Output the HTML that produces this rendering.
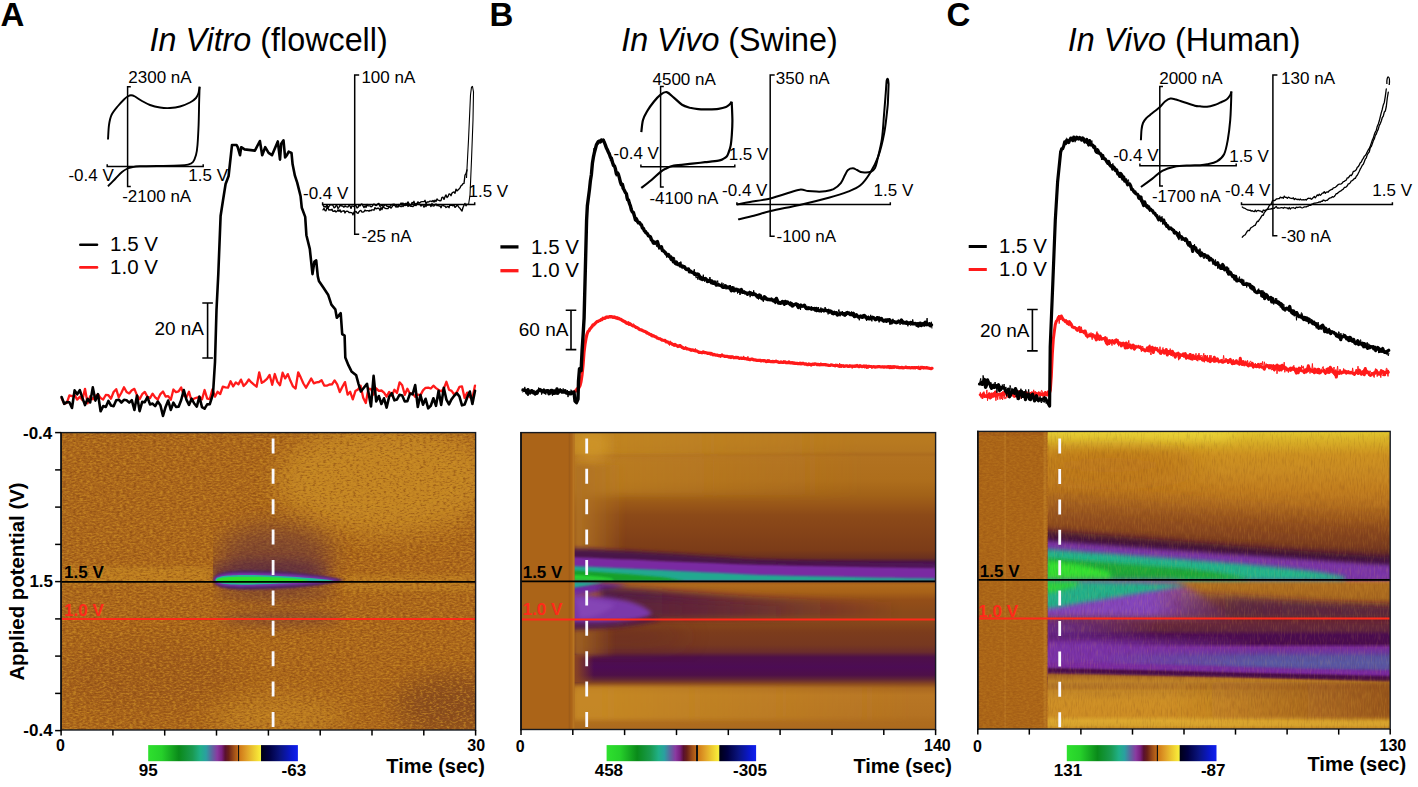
<!DOCTYPE html><html><head><meta charset="utf-8"><style>html,body{margin:0;padding:0;background:#fff;overflow:hidden}svg{display:block;font-family:"Liberation Sans",sans-serif}</style></head><body><svg width="1418" height="787" viewBox="0 0 1418 787" font-family="Liberation Sans, sans-serif"><defs><linearGradient id="cbar" x1="0" y1="0" x2="1" y2="0"><stop offset="0" stop-color="#2ee02e"/><stop offset="0.09" stop-color="#26d02a"/><stop offset="0.205" stop-color="#0a8a1a"/><stop offset="0.295" stop-color="#1a9a50"/><stop offset="0.348" stop-color="#20b088"/><stop offset="0.386" stop-color="#2aa0a0"/><stop offset="0.424" stop-color="#5a6aa0"/><stop offset="0.461" stop-color="#8a3aa0"/><stop offset="0.491" stop-color="#7a2080"/><stop offset="0.514" stop-color="#5a1030"/><stop offset="0.537" stop-color="#6a2018"/><stop offset="0.574" stop-color="#a05018"/><stop offset="0.599" stop-color="#c06818"/><stop offset="0.6" stop-color="#111"/><stop offset="0.609" stop-color="#111"/><stop offset="0.61" stop-color="#d07818"/><stop offset="0.657" stop-color="#e0a028"/><stop offset="0.702" stop-color="#ecc830"/><stop offset="0.742" stop-color="#f8e838"/><stop offset="0.751" stop-color="#f0f040"/><stop offset="0.757" stop-color="#000018"/><stop offset="0.808" stop-color="#000040"/><stop offset="0.883" stop-color="#0a1480"/><stop offset="0.958" stop-color="#0a18d0"/><stop offset="1" stop-color="#1020f0"/></linearGradient><linearGradient id="gB" x1="0" y1="0" x2="0" y2="1"><stop offset="0.0" stop-color="#b87a20"/><stop offset="0.0253" stop-color="#b87a20"/><stop offset="0.0623" stop-color="#b47620"/><stop offset="0.0741" stop-color="#ac6c1e"/><stop offset="0.0825" stop-color="#b27220"/><stop offset="0.16" stop-color="#ae6e1c"/><stop offset="0.2105" stop-color="#a26218"/><stop offset="0.2442" stop-color="#985618"/><stop offset="0.2779" stop-color="#8c4a18"/><stop offset="0.3284" stop-color="#864418"/><stop offset="0.3958" stop-color="#7c3c18"/><stop offset="0.4227" stop-color="#6a3020"/><stop offset="0.4362" stop-color="#4a1448"/><stop offset="0.4496" stop-color="#5a1a70"/><stop offset="0.4598" stop-color="#7a2aa0"/><stop offset="0.4766" stop-color="#8a3ab0"/><stop offset="0.4901" stop-color="#7a2aa0"/><stop offset="0.4985" stop-color="#4a1a50"/><stop offset="0.5052" stop-color="#a85e18"/><stop offset="0.5136" stop-color="#b06a1c"/><stop offset="0.5372" stop-color="#a86218"/><stop offset="0.5642" stop-color="#944e18"/><stop offset="0.6046" stop-color="#8a4a1a"/><stop offset="0.6315" stop-color="#8a4a1a"/><stop offset="0.6719" stop-color="#7c3c1c"/><stop offset="0.7157" stop-color="#763820"/><stop offset="0.7393" stop-color="#6a2c2c"/><stop offset="0.7561" stop-color="#4e1048"/><stop offset="0.7898" stop-color="#4c0c54"/><stop offset="0.8168" stop-color="#4e1048"/><stop offset="0.8302" stop-color="#5e2438"/><stop offset="0.8471" stop-color="#8a4a20"/><stop offset="0.8606" stop-color="#aa6820"/><stop offset="0.8841" stop-color="#b87624"/><stop offset="0.9515" stop-color="#b47222"/><stop offset="0.9751" stop-color="#ae6c1e"/><stop offset="1.0" stop-color="#ac6a1e"/></linearGradient><linearGradient id="gC" x1="0" y1="0" x2="0" y2="1"><stop offset="0.0" stop-color="#e2ca30"/><stop offset="0.0185" stop-color="#dcb82a"/><stop offset="0.0455" stop-color="#d4a624"/><stop offset="0.0792" stop-color="#cc9020"/><stop offset="0.1298" stop-color="#c88a22"/><stop offset="0.1972" stop-color="#c07c1e"/><stop offset="0.2477" stop-color="#b47020"/><stop offset="0.2983" stop-color="#a05c1c"/><stop offset="0.3354" stop-color="#8e4c1c"/><stop offset="0.3825" stop-color="#743820"/><stop offset="0.4095" stop-color="#5a2628"/><stop offset="0.4264" stop-color="#4a1a40"/><stop offset="0.4398" stop-color="#5a1a6a"/><stop offset="0.4567" stop-color="#7a34a0"/><stop offset="0.4803" stop-color="#8440b0"/><stop offset="0.4954" stop-color="#6a2a80"/><stop offset="0.4988" stop-color="#4a1a50"/><stop offset="0.5056" stop-color="#c07e22"/><stop offset="0.514" stop-color="#b07020"/><stop offset="0.5612" stop-color="#a86820"/><stop offset="0.5881" stop-color="#8a4c22"/><stop offset="0.6084" stop-color="#7a3e24"/><stop offset="0.6252" stop-color="#7a3a20"/><stop offset="0.632" stop-color="#6e3028"/><stop offset="0.6421" stop-color="#6a2a38"/><stop offset="0.669" stop-color="#5e2440"/><stop offset="0.6842" stop-color="#4a0c50"/><stop offset="0.7128" stop-color="#4a0c50"/><stop offset="0.7263" stop-color="#7a2a9a"/><stop offset="0.7432" stop-color="#6a3aa0"/><stop offset="0.7567" stop-color="#5a50a0"/><stop offset="0.7769" stop-color="#5a5aa4"/><stop offset="0.7971" stop-color="#5a50a0"/><stop offset="0.8106" stop-color="#7a2aa0"/><stop offset="0.8257" stop-color="#4a0c4a"/><stop offset="0.8409" stop-color="#4a1440"/><stop offset="0.851" stop-color="#8a4a24"/><stop offset="0.8713" stop-color="#c08428"/><stop offset="0.905" stop-color="#cc8e26"/><stop offset="0.9555" stop-color="#cc8c24"/><stop offset="0.9724" stop-color="#dca830"/><stop offset="0.9892" stop-color="#d4a02c"/><stop offset="1.0" stop-color="#c08020"/></linearGradient>
<filter id="bl1" x="-20%" y="-50%" width="140%" height="200%"><feGaussianBlur stdDeviation="1.2"/></filter>
<filter id="bl2" x="-20%" y="-50%" width="140%" height="200%"><feGaussianBlur stdDeviation="2.2"/></filter>
<filter id="bl3" x="-20%" y="-60%" width="140%" height="220%"><feGaussianBlur stdDeviation="3.5"/></filter>
<filter id="bl5" x="-30%" y="-80%" width="160%" height="260%"><feGaussianBlur stdDeviation="6"/></filter>
<filter id="bl9" x="-30%" y="-80%" width="160%" height="260%"><feGaussianBlur stdDeviation="12"/></filter>
<filter id="grainv" x="0" y="0" width="100%" height="100%" filterUnits="objectBoundingBox" color-interpolation-filters="sRGB">
  <feTurbulence type="fractalNoise" baseFrequency="0.7 0.12" numOctaves="2" seed="9" result="n"/>
  <feColorMatrix in="n" type="matrix" values="0 0 0 0 0.95  0 0 0 0 0.72  0 0 0 0 0.25  3.0 0 0 0 -1.45" result="lite"/>
  <feColorMatrix in="n" type="matrix" values="0 0 0 0 0.35  0 0 0 0 0.15  0 0 0 0 0.1  -3.0 0 0 0 1.45" result="dark"/>
  <feMerge><feMergeNode in="lite"/><feMergeNode in="dark"/></feMerge>
</filter>
<filter id="grain" x="0" y="0" width="100%" height="100%" filterUnits="objectBoundingBox" color-interpolation-filters="sRGB">
  <feTurbulence type="fractalNoise" baseFrequency="0.3 0.6" numOctaves="2" seed="4" result="n"/>
  <feColorMatrix in="n" type="matrix" values="0 0 0 0 0.82  0 0 0 0 0.58  0 0 0 0 0.15  3.4 0 0 0 -1.62" result="lite"/>
  <feColorMatrix in="n" type="matrix" values="0 0 0 0 0.52  0 0 0 0 0.27  0 0 0 0 0.07  -3.4 0 0 0 1.62" result="dark"/>
  <feMerge><feMergeNode in="lite"/><feMergeNode in="dark"/></feMerge>
</filter>
<clipPath id="cA"><rect x="61.1" y="432.6" width="414.5" height="297.4"/></clipPath><clipPath id="cB"><rect x="521.0" y="432.6" width="414.6" height="296.9"/></clipPath><clipPath id="cAh"><rect x="213" y="430" width="200" height="300"/></clipPath><clipPath id="cBr"><rect x="574" y="430" width="365" height="302"/></clipPath><clipPath id="cCr"><rect x="1047.5" y="430" width="345" height="302"/></clipPath><clipPath id="cC"><rect x="977.8" y="431.4" width="412.4000000000001" height="297.6"/></clipPath><linearGradient id="fB3" gradientUnits="userSpaceOnUse" x1="590" y1="0" x2="860" y2="0"><stop offset="0" stop-color="#c68c24" stop-opacity="0.6"/><stop offset="1" stop-color="#c68c24" stop-opacity="0"/></linearGradient><linearGradient id="fB4" gradientUnits="userSpaceOnUse" x1="590" y1="0" x2="860" y2="0"><stop offset="0" stop-color="#c08424" stop-opacity="0.6"/><stop offset="1" stop-color="#c08424" stop-opacity="0"/></linearGradient><linearGradient id="fB5" gradientUnits="userSpaceOnUse" x1="600" y1="0" x2="910" y2="0"><stop offset="0" stop-color="#c88c24" stop-opacity="0.8"/><stop offset="1" stop-color="#c88c24" stop-opacity="0"/></linearGradient><linearGradient id="fB6" gradientUnits="userSpaceOnUse" x1="578" y1="0" x2="625" y2="0"><stop offset="0" stop-color="#b07222" stop-opacity="0.95"/><stop offset="1" stop-color="#b07222" stop-opacity="0"/></linearGradient><linearGradient id="fB7" gradientUnits="userSpaceOnUse" x1="578" y1="0" x2="615" y2="0"><stop offset="0" stop-color="#a86a20" stop-opacity="0.8"/><stop offset="1" stop-color="#a86a20" stop-opacity="0"/></linearGradient><linearGradient id="fB9" gradientUnits="userSpaceOnUse" x1="640" y1="0" x2="900" y2="0"><stop offset="0" stop-color="#4a1448" stop-opacity="0.9"/><stop offset="1" stop-color="#4a1448" stop-opacity="0"/></linearGradient><linearGradient id="fB10" gradientUnits="userSpaceOnUse" x1="660" y1="0" x2="800" y2="0"><stop offset="0" stop-color="#6a2a30" stop-opacity="0.5"/><stop offset="1" stop-color="#6a2a30" stop-opacity="0"/></linearGradient><linearGradient id="fB2" gradientUnits="userSpaceOnUse" x1="577" y1="0" x2="594" y2="0"><stop offset="0" stop-color="#8a4622" stop-opacity="0.9"/><stop offset="1" stop-color="#8a4622" stop-opacity="0"/></linearGradient><linearGradient id="fC1" gradientUnits="userSpaceOnUse" x1="1150" y1="0" x2="1235" y2="0"><stop offset="0" stop-color="#8444bc" stop-opacity="1"/><stop offset="1" stop-color="#8444bc" stop-opacity="0.2"/></linearGradient><linearGradient id="fC5" gradientUnits="userSpaceOnUse" x1="1240" y1="0" x2="1160" y2="0"><stop offset="0" stop-color="#4a1a50" stop-opacity="0.7"/><stop offset="1" stop-color="#4a1a50" stop-opacity="0"/></linearGradient><linearGradient id="fC7" gradientUnits="userSpaceOnUse" x1="1395" y1="0" x2="1250" y2="0"><stop offset="0" stop-color="#5a2438" stop-opacity="0.55"/><stop offset="1" stop-color="#5a2438" stop-opacity="0"/></linearGradient><linearGradient id="fC2" gradientUnits="userSpaceOnUse" x1="1060" y1="0" x2="1160" y2="0"><stop offset="0" stop-color="#6a2c98" stop-opacity="0.8"/><stop offset="1" stop-color="#6a2c98" stop-opacity="0"/></linearGradient><linearGradient id="fC3" gradientUnits="userSpaceOnUse" x1="1090" y1="0" x2="1260" y2="0"><stop offset="0" stop-color="#7a32a8" stop-opacity="1"/><stop offset="1" stop-color="#7a32a8" stop-opacity="0"/></linearGradient><linearGradient id="vC1" x1="0" y1="0" x2="0" y2="1"><stop offset="0" stop-color="#9a5a26"/><stop offset="0.45" stop-color="#c08428"/><stop offset="1" stop-color="#c88a28" stop-opacity="0"/></linearGradient><linearGradient id="fC4" gradientUnits="userSpaceOnUse" x1="1395" y1="0" x2="1170" y2="0"><stop offset="0" stop-color="#8e4c1c" stop-opacity="0.85"/><stop offset="1" stop-color="#8e4c1c" stop-opacity="0"/></linearGradient></defs><rect width="1418" height="787" fill="#fff"/><g clip-path="url(#cA)"><rect x="61.1" y="432.6" width="414.5" height="297.4" fill="#aa661c"/><ellipse cx="385" cy="480" rx="110" ry="55" fill="#c88c26" opacity="0.8" filter="url(#bl9)"/><rect x="61" y="567" width="150" height="17" fill="#c88c26" opacity="0.55" filter="url(#bl2)"/><rect x="342" y="575" width="134" height="16" fill="#c88c26" opacity="0.45" filter="url(#bl2)"/><ellipse cx="278" cy="716" rx="70" ry="18" fill="#c88c26" opacity="0.6" filter="url(#bl9)"/><ellipse cx="450" cy="705" rx="55" ry="30" fill="#6a3424" opacity="0.5" filter="url(#bl9)"/><ellipse cx="150" cy="675" rx="90" ry="35" fill="#8a4a1a" opacity="0.3" filter="url(#bl9)"/><rect x="61.1" y="432.6" width="414.5" height="297.4" filter="url(#grain)" opacity="0.6"/><g clip-path="url(#cAh)"><ellipse cx="275" cy="556" rx="58" ry="30" fill="#5a2c40" opacity="0.5" filter="url(#bl9)"/><ellipse cx="268" cy="571" rx="62" ry="11" fill="#4a1c48" opacity="0.55" filter="url(#bl5)"/><ellipse cx="275" cy="594" rx="62" ry="8" fill="#5a2c40" opacity="0.35" filter="url(#bl5)"/><ellipse cx="280" cy="619" rx="62" ry="7" fill="#5a2c40" opacity="0.4" filter="url(#bl5)"/></g><path d="M213.5,580 C213.5,569 240,570 270,571 C300,572 330,576 344,580 C330,585 300,588 270,589 C240,590 213.5,591 213.5,580Z" fill="#4e2060" filter="url(#bl1)"/><path d="M214.5,580 C214.5,572 240,572.5 270,573.5 C300,574.5 325,577.5 340,580 C325,583 300,585 270,586 C240,587 214.5,588 214.5,580Z" fill="#7a38b0" filter="url(#bl1)"/><path d="M215.5,580 C215.5,574.5 240,574.5 270,575.5 C295,576.5 318,578.5 334,580.5 C318,582 295,583 270,584 C240,585 215.5,585.5 215.5,580Z" fill="#22b898"/><path d="M217,580 C217,576.5 240,576.5 265,577 C285,577.5 300,579 310,580 C300,581.5 285,582 265,583 C240,583.5 217,583.5 217,580Z" fill="#2ee030"/></g><g clip-path="url(#cB)"><rect x="521.0" y="432.6" width="414.6" height="296.9" fill="url(#gB)"/><g clip-path="url(#cBr)"><rect x="574" y="432" width="300" height="23" fill="url(#fB3)" filter="url(#bl1)"/><rect x="574" y="455" width="300" height="40" fill="url(#fB4)" filter="url(#bl3)"/><ellipse cx="592" cy="445" rx="18" ry="16" fill="#d49c2a" opacity="0.6" filter="url(#bl5)"/><rect x="574" y="686" width="360" height="34" fill="url(#fB5)" filter="url(#bl2)"/><ellipse cx="620" cy="636" rx="70" ry="10" fill="#5a2428" opacity="0.45" filter="url(#bl9)"/><rect x="574" y="465" width="60" height="90" fill="url(#fB6)" filter="url(#bl2)"/><rect x="574" y="626" width="60" height="30" fill="url(#fB7)" filter="url(#bl2)"/><path d="M570,548 C620,550 680,554 760,560 C820,563 880,564 935,565 L935,569 C860,568 800,567 760,566 C700,564 640,563 570,563Z" fill="#4a1448" filter="url(#bl2)"/><path d="M571,557 C620,559 680,562 760,565 C840,567 890,568 935,568.5 L935,581 L571,581Z" fill="#7a2aa2" filter="url(#bl1)"/><path d="M572,566 C620,568 680,571 760,575 C840,577 890,578 935,578.5 L935,581 L572,581Z" fill="#22a890" filter="url(#bl1)"/><path d="M573,570.5 C600,572 630,574 660,577 C672,578.5 680,580 684,581 L573,581Z" fill="#15a02a" filter="url(#bl1)"/><path d="M574,575 C585,575 600,576.5 612,578.5 L614,581 L574,581Z" fill="#28d030" filter="url(#bl1)"/><path d="M571,582 C590,582 610,583 628,585.5 C610,590 590,594 571,597Z" fill="#6e2aa0" filter="url(#bl2)"/><path d="M572,582 L605,582.5 C595,584 585,586 572,588Z" fill="#22a890" filter="url(#bl1)"/><path d="M600,586 C650,589 700,593 760,597 C820,600 880,602 935,603 L935,618 L600,618Z" fill="url(#fB9)" filter="url(#bl3)"/><path d="M620,598 C680,601 740,605 800,607 L800,618 L620,618Z" fill="url(#fB10)" filter="url(#bl3)"/><path d="M571,594 C590,595 610,597 628,601 C642,605 650,610 652,614 C645,619 630,622 612,624 C595,626 585,626 571,626Z" fill="#7a38aa" filter="url(#bl2)"/><path d="M576,598 C590,599 605,601 615,605 C607,612 595,617 580,619Z" fill="#8a4cba" opacity="0.7" filter="url(#bl2)"/><path d="M571,622 C600,623 630,622 655,617 L660,620 C640,626 610,629 571,630Z" fill="#4a1448" opacity="0.8" filter="url(#bl2)"/><rect x="574" y="655" width="22" height="27" fill="url(#fB2)"/></g><rect x="521.0" y="432.6" width="53.5" height="296.9" fill="#ab6418"/><rect x="568.8" y="432.6" width="1.4" height="296.9" fill="#9a5a1a" opacity="0.7"/><rect x="572.5" y="432.6" width="2" height="296.9" fill="#c08028" opacity="0.6"/></g><g clip-path="url(#cC)"><rect x="977.8" y="431.4" width="412.4000000000001" height="297.6" fill="url(#gC)"/><g clip-path="url(#cCr)"><ellipse cx="1140" cy="434" rx="100" ry="7" fill="#f0e040" opacity="0.8" filter="url(#bl5)"/><ellipse cx="1110" cy="465" rx="90" ry="16" fill="#b06618" opacity="0.6" filter="url(#bl9)"/><path d="M1040,495 C1150,505 1280,518 1395,528 L1395,560 L1040,545Z" fill="#864420" opacity="0.55" filter="url(#bl9)"/><path d="M1040,530 C1100,535 1200,543 1300,551 L1395,558 L1395,567 C1300,563 1200,558 1040,549Z" fill="#3a1040" opacity="0.9" filter="url(#bl3)"/><path d="M1040,540 C1100,545 1200,552 1300,559 L1395,566 L1395,580 L1040,580Z" fill="#7a34a8" filter="url(#bl2)"/><path d="M1044,549 C1100,553 1170,558 1230,563 C1280,567 1320,571 1345,577 L1345,580 L1044,580Z" fill="#24b48c" filter="url(#bl2)"/><path d="M1046,558 C1090,561 1140,565 1190,569 C1215,572 1235,575 1250,579 L1046,580Z" fill="#1ea838" filter="url(#bl2)"/><path d="M1047,561 C1065,562 1090,566 1110,572 L1110,580 L1047,580Z" fill="#30e030" filter="url(#bl2)"/><path d="M1040,581 L1175,581 C1195,590 1215,605 1235,618 L1040,618Z" fill="url(#fC1)" filter="url(#bl3)"/><path d="M1150,590 C1250,597 1320,603 1395,606 L1395,618 L1150,618Z" fill="url(#fC5)" filter="url(#bl3)"/><path d="M1240,598 C1300,602 1350,605 1395,606 L1395,618 L1240,618Z" fill="url(#fC7)" filter="url(#bl3)"/><path d="M1042,581 C1100,582 1150,583 1188,585 C1160,590 1110,598 1080,603 C1065,606 1055,608 1042,609Z" fill="#24b08a" filter="url(#bl2)"/><path d="M1044,581 L1080,582 C1078,587 1062,591 1044,594Z" fill="#2ad040" filter="url(#bl2)"/><rect x="1040" y="620" width="160" height="18" fill="url(#fC2)" filter="url(#bl3)"/><rect x="1040" y="639" width="260" height="36" fill="url(#fC3)" filter="url(#bl3)"/><path d="M1040,672 C1150,674 1280,677 1395,681 L1395,694 L1040,694Z" fill="url(#vC1)" filter="url(#bl1)"/><path d="M1040,667 C1150,669 1280,673 1395,676 L1395,681 C1280,678 1150,675 1040,673Z" fill="#4a0c4a" filter="url(#bl1)"/><path d="M1040,662 C1150,664 1280,668 1395,671 L1395,676 C1280,673 1150,670 1040,667.5Z" fill="#7a2aa0" opacity="0.9" filter="url(#bl1)"/><rect x="1150" y="682" width="245" height="37" fill="url(#fC4)" filter="url(#bl2)"/><rect x="1047" y="431.4" width="343.20000000000005" height="297.6" filter="url(#grainv)" opacity="0.13"/></g><rect x="977.8" y="431.4" width="69.70000000000005" height="297.6" fill="#ab6518"/><rect x="977.8" y="431.4" width="69.70000000000005" height="4" fill="#a05a1a" opacity="0.6"/><rect x="1004.5" y="431.4" width="1.2" height="297.6" fill="#c88a30" opacity="0.5"/><rect x="1043.5" y="431.4" width="3" height="297.6" fill="#c08028" opacity="0.6"/><rect x="977.8" y="431.4" width="69.70000000000005" height="297.6" filter="url(#grain)" opacity="0.22"/></g><line x1="273.1" y1="438.4" x2="273.1" y2="730.0" stroke="#fafaff" stroke-width="2.8" stroke-dasharray="15 15.4"/><line x1="61.1" y1="581.9" x2="475.6" y2="581.9" stroke="#000" stroke-width="1.7"/><line x1="61.1" y1="619.1" x2="475.6" y2="619.1" stroke="#ff2a1a" stroke-width="2"/><rect x="61.1" y="432.6" width="414.5" height="297.4" fill="none" stroke="#161a22" stroke-width="1.4"/><line x1="61.1" y1="432.0" x2="61.1" y2="730.7" stroke="#111" stroke-width="1.6"/><line x1="61.1" y1="730.0" x2="61.1" y2="735.6" stroke="#000" stroke-width="1.5"/><line x1="112.9" y1="730.0" x2="112.9" y2="735.6" stroke="#000" stroke-width="1.5"/><line x1="164.7" y1="730.0" x2="164.7" y2="735.6" stroke="#000" stroke-width="1.5"/><line x1="216.5" y1="730.0" x2="216.5" y2="735.6" stroke="#000" stroke-width="1.5"/><line x1="268.4" y1="730.0" x2="268.4" y2="735.6" stroke="#000" stroke-width="1.5"/><line x1="320.2" y1="730.0" x2="320.2" y2="735.6" stroke="#000" stroke-width="1.5"/><line x1="372.0" y1="730.0" x2="372.0" y2="735.6" stroke="#000" stroke-width="1.5"/><line x1="423.8" y1="730.0" x2="423.8" y2="735.6" stroke="#000" stroke-width="1.5"/><line x1="475.6" y1="730.0" x2="475.6" y2="735.6" stroke="#000" stroke-width="1.5"/><line x1="55.1" y1="432.6" x2="61.1" y2="432.6" stroke="#000" stroke-width="1.5"/><line x1="55.1" y1="469.9" x2="61.1" y2="469.9" stroke="#000" stroke-width="1.5"/><line x1="55.1" y1="507.1" x2="61.1" y2="507.1" stroke="#000" stroke-width="1.5"/><line x1="55.1" y1="544.4" x2="61.1" y2="544.4" stroke="#000" stroke-width="1.5"/><line x1="55.1" y1="581.6" x2="61.1" y2="581.6" stroke="#000" stroke-width="1.5"/><line x1="55.1" y1="618.9" x2="61.1" y2="618.9" stroke="#000" stroke-width="1.5"/><line x1="55.1" y1="656.1" x2="61.1" y2="656.1" stroke="#000" stroke-width="1.5"/><line x1="55.1" y1="693.4" x2="61.1" y2="693.4" stroke="#000" stroke-width="1.5"/><line x1="55.1" y1="730.6" x2="61.1" y2="730.6" stroke="#000" stroke-width="1.5"/><line x1="586.7" y1="438.4" x2="586.7" y2="729.5" stroke="#fafaff" stroke-width="2.8" stroke-dasharray="15 15.4"/><line x1="521.0" y1="581.3" x2="935.6" y2="581.3" stroke="#000" stroke-width="1.7"/><line x1="521.0" y1="619.4" x2="935.6" y2="619.4" stroke="#ff2a1a" stroke-width="2"/><rect x="521.0" y="432.6" width="414.6" height="296.9" fill="none" stroke="#161a22" stroke-width="1.4"/><line x1="521.0" y1="432.0" x2="521.0" y2="730.2" stroke="#111" stroke-width="1.6"/><line x1="521.0" y1="729.5" x2="521.0" y2="735.1" stroke="#000" stroke-width="1.5"/><line x1="572.8" y1="729.5" x2="572.8" y2="735.1" stroke="#000" stroke-width="1.5"/><line x1="624.6" y1="729.5" x2="624.6" y2="735.1" stroke="#000" stroke-width="1.5"/><line x1="676.5" y1="729.5" x2="676.5" y2="735.1" stroke="#000" stroke-width="1.5"/><line x1="728.3" y1="729.5" x2="728.3" y2="735.1" stroke="#000" stroke-width="1.5"/><line x1="780.1" y1="729.5" x2="780.1" y2="735.1" stroke="#000" stroke-width="1.5"/><line x1="832.0" y1="729.5" x2="832.0" y2="735.1" stroke="#000" stroke-width="1.5"/><line x1="883.8" y1="729.5" x2="883.8" y2="735.1" stroke="#000" stroke-width="1.5"/><line x1="935.6" y1="729.5" x2="935.6" y2="735.1" stroke="#000" stroke-width="1.5"/><line x1="1059.7" y1="438.6" x2="1059.7" y2="729.0" stroke="#fafaff" stroke-width="2.8" stroke-dasharray="15 15.4"/><line x1="977.8" y1="579.8" x2="1390.2" y2="579.8" stroke="#000" stroke-width="1.7"/><line x1="977.8" y1="618.5" x2="1390.2" y2="618.5" stroke="#ff2a1a" stroke-width="2"/><rect x="977.8" y="431.4" width="412.4000000000001" height="297.6" fill="none" stroke="#161a22" stroke-width="1.4"/><line x1="977.8" y1="430.79999999999995" x2="977.8" y2="729.7" stroke="#111" stroke-width="1.6"/><line x1="977.8" y1="729.0" x2="977.8" y2="734.6" stroke="#000" stroke-width="1.5"/><line x1="1029.3" y1="729.0" x2="1029.3" y2="734.6" stroke="#000" stroke-width="1.5"/><line x1="1080.9" y1="729.0" x2="1080.9" y2="734.6" stroke="#000" stroke-width="1.5"/><line x1="1132.5" y1="729.0" x2="1132.5" y2="734.6" stroke="#000" stroke-width="1.5"/><line x1="1184.0" y1="729.0" x2="1184.0" y2="734.6" stroke="#000" stroke-width="1.5"/><line x1="1235.5" y1="729.0" x2="1235.5" y2="734.6" stroke="#000" stroke-width="1.5"/><line x1="1287.1" y1="729.0" x2="1287.1" y2="734.6" stroke="#000" stroke-width="1.5"/><line x1="1338.7" y1="729.0" x2="1338.7" y2="734.6" stroke="#000" stroke-width="1.5"/><line x1="1390.2" y1="729.0" x2="1390.2" y2="734.6" stroke="#000" stroke-width="1.5"/><rect x="148.2" y="745.1" width="149.7" height="16.1" fill="url(#cbar)"/><rect x="606.6" y="745.1" width="149.5" height="16.1" fill="url(#cbar)"/><rect x="1066.8" y="745.1" width="149.7" height="16.1" fill="url(#cbar)"/><polyline points="61.6,398.1 64.2,403.7 66.8,403 69.4,395.4 72,396.2 74.6,395.1 77.2,399.6 79.8,396.8 82.4,400.1 85,388.8 87.6,403.4 90.2,396.1 92.8,399.3 95.4,395.7 98,394.5 100.6,398 103.2,399.5 105.8,395 108.4,395.2 111,398.7 113.6,392 116.2,389.2 118.8,397.3 121.4,392.7 124,387.3 126.6,392 129.2,393.4 131.8,390.2 134.4,388.9 137,395.4 139.6,399.1 142.2,394.2 144.8,391.9 147.4,396.7 150,398.1 152.6,393.7 155.2,397.3 157.8,399.5 160.4,394.1 163,391.5 165.6,396.5 168.2,396.1 170.8,399.7 173.4,389.5 176,392.2 178.6,391.4 181.2,387.5 183.8,395.5 186.4,397.3 189,391.8 191.6,401 194.2,398.5 196.8,397.7 199.4,396.7 202,399.4 204.6,390 207.2,398.7 209.8,399.1 212.4,389.3 215,396.7 217.6,391.8 220.2,394 222.8,386.7 225.4,387.4 228,387.7 230.6,381.3 233.2,386.4 235.8,382.4 238.4,384.4 241,379.6 243.6,386 246.2,383.4 248.8,379.5 251.4,382.4 254,384.6 256.6,386.7 259.2,372.3 261.8,382.9 264.4,381.2 267,378.9 269.6,375 272.2,384.8 274.8,374 277.4,381.9 280,385.2 282.6,372.7 285.2,378.4 287.8,374.1 290.4,380.8 293,386.4 295.6,388.6 298.2,372.3 300.8,377.6 303.4,383.5 306,387.7 308.6,383.1 311.2,378.5 313.8,383.3 316.4,382.4 319,382 321.6,380.2 324.2,385.5 326.8,385.7 329.4,384.5 332,384.4 334.6,380.4 337.2,384.3 339.8,392.1 342.4,386.8 345,382.1 347.6,394.6 350.2,391.8 352.8,399.3 355.4,391.1 358,389.5 360.6,385.8 363.2,397.7 365.8,403 368.4,388.5 371,389.2 373.6,394.6 376.2,388.4 378.8,390.8 381.4,390.5 384,392.7 386.6,396.5 389.2,391.9 391.8,395.7 394.4,389.8 397,393 399.6,382.3 402.2,385.2 404.8,394.8 407.4,388.8 410,393.7 412.6,393.5 415.2,396.8 417.8,394.5 420.4,395.4 423,390.4 425.6,387.8 428.2,387.6 430.8,388.5 433.4,385.7 436,388.1 438.6,389.9 441.2,391.3 443.8,388.7 446.4,381.8 449,389.7 451.6,390.9 454.2,394.5 456.8,392.2 459.4,386.9 462,386.4 464.6,398.1 467.2,392.6 469.8,397.1 472.4,398.3 475,385.6" fill="none" stroke="#ff1a1a" stroke-width="2.3" stroke-linejoin="round" stroke-linecap="round"/><polyline points="61.6,397 64.2,403.8 66.8,402.1 69.4,402.2 72,408 74.6,390.4 77.2,394.3 79.8,390.1 82.4,397.9 85,405.1 87.6,398.9 90.2,402.4 92.8,387.4 95.4,400.6 98,394.1 100.6,411.3 103.2,406.1 105.8,406.9 108.4,400.9 111,405.5 113.6,406.2 116.2,400.3 118.8,399.7 121.4,402.5 124,399.8 126.6,400.2 129.2,402.6 131.8,400.2 134.4,410 137,395.5 139.6,411.1 142.2,401.9 144.8,402.2 147.4,397 150,404.4 152.6,403.6 155.2,406.2 157.8,401.5 160.4,405.2 163,415.9 165.6,406.9 168.2,400.5 170.8,409.9 173.4,402.7 176,406.9 178.6,406.7 181.2,400 183.8,390 186.4,399.6 189,404.9 191.6,398.7 194.2,403.5 196.8,406.6 199.4,396.7 202,407.1 204.6,408.7 207.2,404.4 209.8,404.1 213,394 215,362 216.5,310 218.3,274 220.6,216 222.9,201 225.6,184 228.6,176 232,145 236.6,145 237.7,147.2 240,155.2 241.2,147.2 244.6,149.4 254.9,150.6 259.9,141 262.2,155.2 265.2,147.2 268.6,152.9 272,155.2 277.8,141.4 280,159.7 281.2,143.7 283.5,140.3 285.1,157.4 286.9,155.2 288.7,151.7 291.5,152.9 292.6,164.3 294.9,175.7 297.2,182.6 300.6,196.3 301.8,207.8 305.2,216.9 306.4,235.2 309.8,248.9 312.5,274.1 314.4,261.5 316.2,260.4 317.8,276.4 318.9,281 323.5,287.8 328.1,294.7 331.4,304.7 335.3,309.3 336.8,317.8 340.7,313.2 342.2,334.1 344.6,335.7 345.3,357.4 348.4,365.2 351.5,371.4 356.2,375.3 358.5,383.8 360.9,391.5 367,383.8 368.6,393.1 371,406.5 373.6,375.8 376.2,401.4 378.8,396 381.4,404 384,398.3 386.6,407.6 389.2,396.5 391.8,393.2 394.4,400.3 397,399.5 399.6,394.7 402.2,395.4 404.8,401.4 407.4,401.2 410,393.6 412.6,394.3 415.2,385.1 417.8,407 420.4,394.9 423,404.7 425.6,398.8 428.2,408.3 430.8,405.8 433.4,398.3 436,405.8 438.6,390.7 441.2,404.9 443.8,387.8 446.4,399.6 449,404.3 451.6,399.2 454.2,395.7 456.8,393.2 459.4,396.3 462,405.3 464.6,404.6 467.2,397.5 469.8,391.5 472.4,403.9 475,390.7" fill="none" stroke="#000" stroke-width="2.6" stroke-linejoin="round" stroke-linecap="round"/><polyline points="575,391.1 576,390.9 577,389 578,389.6 579,387.4 580,385.5 581,381.5 582,374.9 583,365.3 584,352.3 585,344.2 586,338.5 587,334.2 588,331.5 589,330.8 590,328.8 591,327.8 592,326.6 593,324.9 594,324.8 595,323.6 596,322.6 597,321.6 598,321.4 599,320.7 600,320.5 601,319.7 602,319.6 603,318.2 604,318.4 605,318.1 606,317.3 607,316.9 608,317.4 609,316.9 610,316.6 611,317 612,316.8 613,317.3 614,317.1 615,317.6 616,318 617,317.7 618,318.6 619,318.4 620,319.2 621,319.3 622,320.3 623,320.8 624,321.3 625,321.7 626,322.8 627,323.3 628,322.9 629,324.3 630,323.7 631,324.6 632,325.3 633,325.9 634,326 635,326.6 636,327.4 637,327.6 638,328.1 639,329.1 640,329.7 641,329.8 642,330.3 643,330.8 644,331.2 645,331.6 646,332 647,333 648,333.3 649,333.8 650,334.4 651,335 652,335.8 653,335.7 654,336.1 655,336.7 656,336.8 657,338 658,338.3 659,338.6 660,338.8 661,339.5 662,340.1 663,340.3 664,340.5 665,340.4 666,341.8 667,341.8 668,342 669,343.1 670,343.3 671,343.1 672,344 673,344.4 674,345.1 675,344.4 676,345.3 677,345.7 678,346.5 679,345.9 680,345.6 681,346.4 682,347.3 683,347.8 684,348.4 685,348.2 686,348.1 687,349 688,349 689,349.2 690,349.6 691,350.3 692,349.8 693,350 694,350.5 695,350.8 696,350.8 697,351 698,351.7 699,352.3 700,352.3 701,352.5 702,352.8 703,351.9 704,352.2 705,352.7 706,352.7 707,353 708,353.5 709,353.2 710,353.7 711,353.3 712,353.9 713,354.9 714,354.4 715,354.9 716,355.2 717,355 718,355.5 719,355.6 720,355.9 721,355.6 722,355.4 723,355.7 724,356 725,356.5 726,356.4 727,356.4 728,356.6 729,357.2 730,356.7 731,357.5 732,356.7 733,357 734,357.7 735,357.7 736,357.3 737,357.7 738,357.6 739,358.3 740,358.3 741,358 742,358.5 743,358.3 744,358.5 745,358.7 746,358.6 747,359.1 748,359.2 749,359.3 750,359.7 751,359.3 752,359 753,359.5 754,359.9 755,359.9 756,360.2 757,360.5 758,360.3 759,360.4 760,360.2 761,361 762,360.7 763,360.5 764,360.5 765,360.8 766,361.6 767,361.4 768,360.6 769,361.3 770,361.5 771,361.7 772,361.7 773,361.4 774,361.8 775,361.6 776,361.1 777,361.7 778,361.8 779,362.4 780,362.5 781,361.9 782,362.4 783,362.4 784,362 785,361.8 786,362.6 787,362.8 788,362.6 789,361.9 790,362.9 791,362.8 792,362.8 793,363.1 794,362.9 795,363.5 796,363.4 797,363.3 798,363.7 799,363.7 800,363.2 801,363.8 802,363.7 803,363.3 804,363.8 805,364.2 806,363.8 807,364.6 808,364.7 809,364.1 810,364.4 811,365 812,364.2 813,364 814,364.2 815,363.9 816,364 817,364.6 818,364.4 819,364.7 820,364.8 821,364.4 822,364.6 823,364.7 824,364.6 825,364.6 826,365 827,365 828,365.2 829,365.5 830,365.5 831,364.9 832,365 833,365.3 834,365.5 835,365.8 836,365.2 837,365.5 838,365.8 839,366.2 840,366.3 841,365.5 842,365.9 843,365.7 844,366.3 845,366.2 846,365.9 847,365.9 848,366.2 849,366.5 850,365.9 851,366.1 852,366.2 853,366.2 854,366.3 855,365.9 856,366.1 857,365.5 858,366.3 859,366.7 860,365.6 861,366.1 862,366.7 863,366.4 864,365.8 865,366.8 866,366 867,367 868,366.3 869,366.3 870,366.5 871,366.5 872,366.8 873,366.8 874,366.6 875,367.1 876,366.9 877,366.8 878,366.7 879,366.7 880,366.7 881,367 882,366.9 883,366.8 884,367.2 885,366.8 886,367 887,367.2 888,366.5 889,366.9 890,367.6 891,366.7 892,367.5 893,366.7 894,367.3 895,366.8 896,367 897,367.1 898,367 899,367.6 900,367.6 901,367.6 902,367.4 903,368 904,367.8 905,367.5 906,367.1 907,367.7 908,367.7 909,367.5 910,367.8 911,367.8 912,367.5 913,367.8 914,367.7 915,367.7 916,367.5 917,367.5 918,367.7 919,368.2 920,368.6 921,367.6 922,367.4 923,367.7 924,367.5 925,367.7 926,368 927,367.6 928,368.1 929,368.2 930,368.5 931,368.6 932,368.3" fill="none" stroke="#ff1a1a" stroke-width="3.2" stroke-linejoin="round" stroke-linecap="round"/><polyline points="596,323.7 596.7,322.4 597.4,320.7 598.1,321.1 598.8,320.6 599.5,320.3 600.2,320.6 600.9,318.5 601.6,320.2 602.3,317.9 603,318.3 603.7,319.1 604.4,318.7 605.1,317.3 605.8,319.3 606.5,317.8 607.2,316.4 607.9,317.1 608.6,316.1 609.3,317 610,315.5 610.7,317.2 611.4,315.3 612.1,318 612.8,317.4 613.5,318.5 614.2,316.7 614.9,315.6 615.6,316.3 616.3,317.5 617,319.6 617.7,318.7 618.4,319.7 619.1,318.1 619.8,318.7 620.5,319.3 621.2,321 621.9,319.8 622.6,320.4 623.3,322.4 624,320.5 624.7,321.6 625.4,320.8 626.1,322.2 626.8,323.5 627.5,324.2 628.2,322.2 628.9,321.5 629.6,324.6 630.3,326 631,324.2 631.7,325.4 632.4,325.6 633.1,324 633.8,323.8 634.5,326.5 635.2,327.4 635.9,325.9 636.6,327.3 637.3,327.3 638,327.5 638.7,327.5 639.4,330.1 640.1,329.4 640.8,329.5 641.5,329.6 642.2,330.8 642.9,330.3 643.6,331.3 644.3,330.8 645,332.1 645.7,331.9 646.4,333 647.1,331.4 647.8,332.5 648.5,332.4 649.2,335.3 649.9,333.7 650.6,334.5 651.3,333.3 652,334.4 652.7,334 653.4,335.8 654.1,335.3 654.8,337.9 655.5,336 656.2,338 656.9,337.3 657.6,338.2 658.3,337.2 659,338.3 659.7,338.5 660.4,338.2 661.1,339.7 661.8,338.2 662.5,339.7 663.2,339.9 663.9,340.5 664.6,339.7 665.3,341.6 666,340.5 666.7,341.1 667.4,341.1 668.1,341.9 668.8,342.9 669.5,345.5 670.2,340.8 670.9,344.3 671.6,344.6 672.3,345.4 673,344.7 673.7,345.1 674.4,346.5 675.1,345.2 675.8,345.4 676.5,345.5 677.2,346.1 677.9,347.5 678.6,345.3 679.3,347.4 680,344.5 680.7,347.2 681.4,346.6 682.1,348.3 682.8,348.1 683.5,348.3 684.2,348.3 684.9,348.3 685.6,346.4 686.3,348.7 687,347.4 687.7,349.8 688.4,348.5 689.1,349.3 689.8,349 690.5,349.7 691.2,350 691.9,350.4 692.6,349 693.3,351.7 694,349.5 694.7,350.5 695.4,348.4 696.1,351.2 696.8,352 697.5,352.4 698.2,352 698.9,352.1 699.6,351.2 700.3,351.6 701,351.9 701.7,352.4 702.4,351.4 703.1,352.2 703.8,353.1 704.5,352.9 705.2,352.8 705.9,352.3 706.6,353.4 707.3,353.4 708,354.7 708.7,353.5 709.4,354.5 710.1,352.6 710.8,355.5 711.5,352.8 712.2,354.1 712.9,353.9 713.6,353.9 714.3,354.2 715,354.1 715.7,354.8 716.4,355.1 717.1,356 717.8,356.2 718.5,356.8 719.2,355.8 719.9,354.8 720.6,357.7 721.3,356.2 722,353.5 722.7,356.6 723.4,355.9 724.1,355.4 724.8,355.6 725.5,356.3 726.2,355.6 726.9,356.6 727.6,356.3 728.3,356.4 729,357.1 729.7,357 730.4,358.3 731.1,357.3 731.8,356.1 732.5,357.1 733.2,358.7 733.9,358.8 734.6,356.6 735.3,358 736,357.1 736.7,357.4 737.4,356.3 738.1,356.3 738.8,357.6 739.5,358.1 740.2,358.5 740.9,357.3 741.6,358 742.3,358.4 743,358.2 743.7,355.9 744.4,357.6 745.1,358.7 745.8,359.2 746.5,357.9 747.2,359.8 747.9,356.3 748.6,360.2 749.3,358.5 750,359.2 750.7,358.4 751.4,358.3 752.1,359.1 752.8,359.6 753.5,358.6 754.2,360.4 754.9,359.4 755.6,359.9 756.3,359.3 757,359.4 757.7,360.1 758.4,359 759.1,360.9 759.8,359.2 760.5,360.8 761.2,359.5 761.9,360.4 762.6,360 763.3,361.8 764,362.3 764.7,360.4 765.4,361.3 766.1,361.1 766.8,361.7 767.5,362 768.2,362.7 768.9,361.2 769.6,359.6 770.3,361.9 771,361 771.7,361.3 772.4,362.6 773.1,362.9 773.8,361.7 774.5,362.8 775.2,362.1 775.9,362.5 776.6,361.7 777.3,363.1 778,361.4 778.7,362 779.4,362.9 780.1,361.2 780.8,362.5 781.5,362.6 782.2,363 782.9,363.9 783.6,360.5 784.3,363.3 785,362.8 785.7,363.6 786.4,363.2 787.1,362 787.8,362.2 788.5,361.8 789.2,363.9 789.9,362.3 790.6,363.2 791.3,362.7 792,361.2 792.7,362.8 793.4,362.9 794.1,364.5 794.8,363 795.5,362.3 796.2,362.8 796.9,364.1 797.6,364 798.3,364 799,364.2 799.7,362.9 800.4,364.5 801.1,364 801.8,361.9 802.5,363.3 803.2,365 803.9,363.4 804.6,363.6 805.3,364 806,364.1 806.7,364 807.4,364.5 808.1,363.4 808.8,362.8 809.5,364.1 810.2,364.1 810.9,365.1 811.6,366.1 812.3,364.7 813,365.1 813.7,365.9 814.4,365.1 815.1,365 815.8,363.6 816.5,364.1 817.2,363.8 817.9,364.2 818.6,365.5 819.3,365.2 820,364.6 820.7,362.7 821.4,365.2 822.1,365.2 822.8,363.7 823.5,364.8 824.2,364.5 824.9,365.4 825.6,363 826.3,363.8 827,366.1 827.7,364.1 828.4,364.3 829.1,364.7 829.8,365.3 830.5,366.4 831.2,365.1 831.9,366.1 832.6,365.7 833.3,364.9 834,366.9 834.7,366.4 835.4,365.2 836.1,365.4 836.8,364.7 837.5,364.1 838.2,365.6 838.9,366.7 839.6,363.1 840.3,365.3 841,367.8 841.7,367.4 842.4,365.2 843.1,365.4 843.8,367.3 844.5,365.1 845.2,366 845.9,365.3 846.6,366.5 847.3,366.3 848,367.8 848.7,365.3 849.4,364.7 850.1,365.9 850.8,366.5 851.5,365.9 852.2,368.5 852.9,365.8 853.6,366.1 854.3,367.1 855,367.9 855.7,366.5 856.4,366.9 857.1,365.2 857.8,365.4 858.5,366.6 859.2,367.1 859.9,366.9 860.6,366.9 861.3,367.2 862,366.4 862.7,366.2 863.4,366.2 864.1,365.3 864.8,365.9 865.5,365.8 866.2,367.1 866.9,368.8 867.6,367.3 868.3,368.5 869,365.9 869.7,366.3 870.4,366.6 871.1,367.8 871.8,368.6 872.5,367.6 873.2,367.2 873.9,367 874.6,366.3 875.3,367.3 876,367.3 876.7,366.9 877.4,366.1 878.1,367 878.8,366.8 879.5,366.2 880.2,368 880.9,366.9 881.6,367.5 882.3,366 883,366.6 883.7,366.4 884.4,366.1 885.1,367.2 885.8,366.9 886.5,366 887.2,366.5 887.9,367.2 888.6,367.1 889.3,368.9 890,365.1 890.7,368 891.4,367.9 892.1,367.7 892.8,366.6 893.5,366.7 894.2,365.6 894.9,367.8 895.6,366.9 896.3,366.9 897,368.9 897.7,366.6 898.4,367.4 899.1,368.1 899.8,367.4 900.5,367.9 901.2,367.8 901.9,367.8 902.6,366.5 903.3,366.5 904,368.6 904.7,368.1 905.4,367.5 906.1,367.1 906.8,369 907.5,367.4 908.2,366.9 908.9,368.7 909.6,366.8 910.3,367.4 911,367.9 911.7,366.8 912.4,368.1 913.1,368.1 913.8,368.3 914.5,367.7 915.2,369.3 915.9,367.9 916.6,367.5 917.3,368.3 918,367.5 918.7,365.8 919.4,369.1 920.1,366.4 920.8,366.2 921.5,368.3 922.2,367.4 922.9,369 923.6,369 924.3,369.1 925,367.9 925.7,368.4 926.4,367 927.1,368.8 927.8,368.1 928.5,368 929.2,368.3 929.9,368.2 930.6,368.6 931.3,368.9 932,368.1" fill="none" stroke="#ff1a1a" stroke-width="1.0" stroke-linejoin="round" stroke-linecap="round"/><polyline points="523,390 524,390.2 525,390.1 526,390.8 527,393.1 528,389.7 529,392.5 530,392.9 531,391.1 532,390.7 533,392 534,392.8 535,393.9 536,392.5 537,393.3 538,391 539,390.5 540,389.6 541,390.2 542,391.1 543,391.7 544,390.1 545,392.4 546,391.4 547,390.8 548,390.7 549,393.7 550,391.7 551,390.5 552,390.5 553,393.5 554,390.9 555,392.8 556,393.1 557,388.9 558,393 559,391.3 560,390.3 561,390.9 562,392.1 563,391.9 564,392 565,390.7 566,392.9 567,393.2 568,393.5 569,392.6 570,393.6 571,393.8 572,392.3 573,392.5 574,392.1 575,401.1 576.5,402.7 578,399.1 578.5,380.8 579.5,368.6 581.1,370.7 582.1,350.3 583.1,335 584.1,318 586.6,220 587.4,205 587.4,205.5 588.4,197.8 589.4,190.1 590.4,180.7 591.4,174.4 592.4,163.3 593.4,157.2 594.4,152.5 595.4,148.8 596.4,144.8 597.4,143 598.4,141.5 599.4,141 600.4,141.9 601.4,140 602.4,140.7 603.4,140.5 604.4,142.5 605.4,145.1 606.4,148 607.4,149.9 608.4,152.2 609.4,154.3 610.4,157.3 611.4,158.3 612.4,161.9 613.4,165.4 614.4,165.8 615.4,168.8 616.4,173.8 617.4,172.7 618.4,174.4 619.4,177.9 620.4,182.2 621.4,184.8 622.4,184.4 623.4,188.5 624.4,190.5 625.4,192.5 626.4,193.8 627.4,199 628.4,199.8 629.4,203.4 630.4,205.8 631.4,210 632.4,212 633.4,212.5 634.4,215.9 635.4,219.7 636.4,218.9 637.4,221 638.4,222.8 639.4,222.4 640.4,224 641.4,224.8 642.4,227.9 643.4,228.3 644.4,230.9 645.4,231.4 646.4,233.1 647.4,233.7 648.4,235.7 649.4,236.2 650.4,236.7 651.4,239.9 652.4,240.9 653.4,243.1 654.4,242 655.4,242.6 656.4,242.8 657.4,241.6 658.4,244.9 659.4,247.5 660.4,247.3 661.4,246.8 662.4,250.6 663.4,250.6 664.4,251.8 665.4,252.7 666.4,254 667.4,255.5 668.4,254.5 669.4,256.6 670.4,257.2 671.4,259.5 672.4,258.4 673.4,261.7 674.4,261.6 675.4,263.3 676.4,262.1 677.4,264.3 678.4,264.7 679.4,263.9 680.4,265.7 681.4,266.1 682.4,266.2 683.4,266.9 684.4,266.8 685.4,268.3 686.4,269.5 687.4,269.1 688.4,268.9 689.4,271.8 690.4,271.1 691.4,272 692.4,272.3 693.4,272.6 694.4,274.2 695.4,273.7 696.4,274.8 697.4,274 698.4,274.4 699.4,276.1 700.4,278.7 701.4,277.5 702.4,279.5 703.4,278.6 704.4,279 705.4,278.5 706.4,279.5 707.4,281.5 708.4,281.4 709.4,280.2 710.4,280.7 711.4,282.8 712.4,281.5 713.4,283.3 714.4,282 715.4,283.8 716.4,285.1 717.4,284.9 718.4,284.7 719.4,285.1 720.4,285.3 721.4,285.7 722.4,287 723.4,287.3 724.4,286.9 725.4,285.7 726.4,286.6 727.4,287.6 728.4,287.7 729.4,286.7 730.4,288.8 731.4,290.8 732.4,287.7 733.4,289.1 734.4,290.8 735.4,289.3 736.4,289.5 737.4,290.3 738.4,291 739.4,290.4 740.4,291.9 741.4,289.6 742.4,292.2 743.4,292.3 744.4,292.1 745.4,292.9 746.4,292.9 747.4,294.3 748.4,293 749.4,293.7 750.4,292.8 751.4,293.3 752.4,294.4 753.4,293.5 754.4,294.5 755.4,294.3 756.4,295.4 757.4,296.2 758.4,297.3 759.4,295 760.4,296.8 761.4,298.1 762.4,298.8 763.4,299.1 764.4,296.8 765.4,297.8 766.4,299.1 767.4,299.6 768.4,299.3 769.4,299.5 770.4,299.8 771.4,299.1 772.4,300.2 773.4,301 774.4,300.2 775.4,301.8 776.4,298.5 777.4,301 778.4,303 779.4,302.5 780.4,303.3 781.4,302.4 782.4,301.4 783.4,302.2 784.4,304.2 785.4,301.4 786.4,302.4 787.4,301.9 788.4,303.2 789.4,303.5 790.4,304.6 791.4,303.5 792.4,306 793.4,305.3 794.4,304.4 795.4,304.2 796.4,303.9 797.4,305.6 798.4,307.5 799.4,305.7 800.4,305.2 801.4,306.2 802.4,306 803.4,305.9 804.4,305.2 805.4,307 806.4,308.6 807.4,308.6 808.4,308.6 809.4,308.1 810.4,308.5 811.4,309.2 812.4,308.5 813.4,309 814.4,308.6 815.4,310.1 816.4,308.5 817.4,310.1 818.4,310.5 819.4,310.7 820.4,310.8 821.4,309.9 822.4,310 823.4,310.3 824.4,310.5 825.4,310 826.4,310.7 827.4,310.7 828.4,310.6 829.4,311.9 830.4,311 831.4,312.1 832.4,313.3 833.4,313.7 834.4,312.3 835.4,313.4 836.4,312.8 837.4,314.9 838.4,314.4 839.4,314.1 840.4,313.1 841.4,313.1 842.4,314 843.4,313.6 844.4,313.6 845.4,314.6 846.4,313 847.4,312.4 848.4,313.5 849.4,313.5 850.4,314.6 851.4,314.1 852.4,314.8 853.4,313.3 854.4,316.6 855.4,315.8 856.4,314.8 857.4,316 858.4,317 859.4,316.8 860.4,316.1 861.4,316.9 862.4,317.3 863.4,315.6 864.4,315.5 865.4,316.4 866.4,318 867.4,318.6 868.4,317.5 869.4,318.9 870.4,318.6 871.4,317.8 872.4,317.3 873.4,317.6 874.4,318.4 875.4,319.7 876.4,319.4 877.4,317.6 878.4,317.8 879.4,319.8 880.4,319.4 881.4,318.5 882.4,320.1 883.4,320.9 884.4,320.5 885.4,320 886.4,321.3 887.4,319.9 888.4,319.9 889.4,319.7 890.4,322.4 891.4,322.8 892.4,321 893.4,321.7 894.4,321.7 895.4,322.3 896.4,322.7 897.4,322.4 898.4,321.8 899.4,321.6 900.4,321.3 901.4,320 902.4,322.4 903.4,321.9 904.4,322.8 905.4,322.8 906.4,322 907.4,322.5 908.4,323.4 909.4,323.3 910.4,322.4 911.4,322.6 912.4,323.9 913.4,323.6 914.4,323.8 915.4,323.4 916.4,324.3 917.4,323.8 918.4,326 919.4,323.4 920.4,323.3 921.4,325.5 922.4,324 923.4,323.4 924.4,324.6 925.4,322.2 926.4,324.7 927.4,324.4 928.4,324.7 929.4,323.8 930.4,325.8 931.4,324.9" fill="none" stroke="#000" stroke-width="3.4" stroke-linejoin="round" stroke-linecap="round"/><polyline points="523,392.2 523.6,391.5 524.2,390.4 524.8,386.9 525.4,391.5 526,393.4 526.6,393.6 527.2,390.4 527.8,396 528.4,395.4 529,391 529.6,391.2 530.2,393.4 530.8,391 531.4,391.9 532,393.9 532.6,393.9 533.2,390.4 533.8,390.6 534.4,390.4 535,391.5 535.6,391.6 536.2,390.7 536.8,393 537.4,391.6 538,391.5 538.6,387.6 539.2,388.7 539.8,390.1 540.4,392.2 541,389.8 541.6,394.6 542.2,391.8 542.8,392 543.4,391.7 544,392.5 544.6,393.3 545.2,390.4 545.8,394.6 546.4,389.9 547,392.5 547.6,391.1 548.2,391.2 548.8,392.8 549.4,391.9 550,394.7 550.6,390.5 551.2,392.5 551.8,392.7 552.4,395.7 553,394.7 553.6,392.9 554.2,394.8 554.8,393.2 555.4,389.9 556,392.2 556.6,394 557.2,390.5 557.8,394.6 558.4,392.2 559,390.2 559.6,392.4 560.2,388.4 560.8,390.1 561.4,389.4 562,392.5 562.6,389.5 563.2,388.4 563.8,392.1 564.4,390.5 565,390.1 565.6,390.3 566.2,393.6 566.8,391.8 567.4,390 568,397.1 568.6,392.5 569.2,395.3 569.8,393.6 570.4,394.2 571,389.7 571.6,390.4 572.2,392.8 572.8,391.3 573.4,391.7 574,393.7" fill="none" stroke="#000" stroke-width="1.0" stroke-linejoin="round" stroke-linecap="round"/><polyline points="593.5,152.2 594.1,148 594.7,152.7 595.3,151.1 595.9,148.3 596.5,143 597.1,142.8 597.7,142 598.3,144.4 598.9,143.1 599.5,141.3 600.1,141.9 600.7,142.6 601.3,141.1 601.9,138.9 602.5,140.8 603.1,140.4 603.7,138.6 604.3,139.3 604.9,144.4 605.5,143.8 606.1,147.7 606.7,147.1 607.3,151.3 607.9,152.9 608.5,153.4 609.1,152.2 609.7,152.1 610.3,160.6 610.9,158.3 611.5,163.3 612.1,160.8 612.7,160.6 613.3,164 613.9,163.3 614.5,166.8 615.1,171 615.7,171.1 616.3,176.3 616.9,173 617.5,174.4 618.1,173.7 618.7,175 619.3,178.5 619.9,177.9 620.5,180.3 621.1,181.7 621.7,181.8 622.3,189.2 622.9,183.5 623.5,188.5 624.1,191.5 624.7,193.2 625.3,192.1 625.9,192.5 626.5,200 627.1,201.1 627.7,199.1 628.3,200.4 628.9,202 629.5,201.5 630.1,204.9 630.7,208.4 631.3,209.4 631.9,208 632.5,212.6 633.1,211.3 633.7,211.5 634.3,216.5 634.9,218.6 635.5,221.6 636.1,218.3 636.7,222.4 637.3,222.2 637.9,222.5 638.5,222 639.1,223.1 639.7,225.1 640.3,225.6 640.9,223.7 641.5,225.5 642.1,227.1 642.7,229.7 643.3,229.5 643.9,229.4 644.5,229.8 645.1,233.7 645.7,230.9 646.3,231.1 646.9,232.4 647.5,234.6 648.1,234.7 648.7,234.5 649.3,235.4 649.9,237.9 650.5,238.5 651.1,239 651.7,237.6 652.3,240 652.9,242.7 653.5,239.9 654.1,244.8 654.7,242.8 655.3,244.7 655.9,241.9 656.5,246.6 657.1,245 657.7,246.2 658.3,247.3 658.9,249.5 659.5,247 660.1,249 660.7,248.9 661.3,246.5 661.9,247.7 662.5,247.9 663.1,250.7 663.7,252 664.3,253 664.9,254.5 665.5,253.8 666.1,251.8 666.7,257.6 667.3,255.4 667.9,254.7 668.5,253.5 669.1,257.7 669.7,254.6 670.3,259.8 670.9,258.6 671.5,255.6 672.1,258.4 672.7,262.8 673.3,256.9 673.9,259.7 674.5,257.5 675.1,261.8 675.7,265.3 676.3,262.5 676.9,262.8 677.5,263 678.1,263.6 678.7,263.9 679.3,266.2 679.9,267.4 680.5,261.8 681.1,261.7 681.7,268.3 682.3,268.7 682.9,264.7 683.5,267 684.1,268.5 684.7,269.4 685.3,268.8 685.9,269.4 686.5,268.8 687.1,270.9 687.7,269.8 688.3,269.7 688.9,269.9 689.5,269.6 690.1,272.4 690.7,272 691.3,272.3 691.9,271.6 692.5,273.8 693.1,273.3 693.7,271.2 694.3,269.2 694.9,272.9 695.5,274 696.1,278.1 696.7,277.2 697.3,276.6 697.9,279.7 698.5,274.9 699.1,276.5 699.7,277.9 700.3,276.8 700.9,276.8 701.5,278.1 702.1,277.3 702.7,279.9 703.3,274.7 703.9,279.2 704.5,281.6 705.1,277.8 705.7,277.7 706.3,280 706.9,279.6 707.5,280.7 708.1,279.3 708.7,280.9 709.3,281.9 709.9,277 710.5,281.1 711.1,282.3 711.7,279.6 712.3,279.7 712.9,283.7 713.5,281.2 714.1,283.2 714.7,284.3 715.3,284.6 715.9,280.7 716.5,284.1 717.1,282.8 717.7,280.6 718.3,285 718.9,286.1 719.5,284.2 720.1,286.2 720.7,286 721.3,286 721.9,282.6 722.5,287 723.1,283.8 723.7,283.6 724.3,285.2 724.9,288.7 725.5,287.8 726.1,289.4 726.7,286.6 727.3,288.3 727.9,286.8 728.5,286.7 729.1,288.7 729.7,287.9 730.3,285 730.9,289.3 731.5,287.5 732.1,291.9 732.7,288.9 733.3,289.5 733.9,286.6 734.5,291.2 735.1,290.6 735.7,288 736.3,289.2 736.9,287.8 737.5,293.5 738.1,288.2 738.7,292.4 739.3,288.9 739.9,295 740.5,293.9 741.1,292.8 741.7,291.1 742.3,290.6 742.9,292.8 743.5,292.5 744.1,290.3 744.7,294.2 745.3,293.2 745.9,292 746.5,292.7 747.1,293.9 747.7,294.3 748.3,293.5 748.9,293.9 749.5,290.8 750.1,297.2 750.7,294 751.3,292.5 751.9,295.7 752.5,292.1 753.1,294.6 753.7,290.3 754.3,294.7 754.9,293.8 755.5,295.4 756.1,297.7 756.7,298.1 757.3,295.4 757.9,298.7 758.5,299.5 759.1,298.5 759.7,295 760.3,296 760.9,299 761.5,294.7 762.1,299.2 762.7,297.7 763.3,301.8 763.9,298 764.5,299.4 765.1,297.5 765.7,296.2 766.3,298.7 766.9,297.4 767.5,300.3 768.1,300.5 768.7,299.7 769.3,299 769.9,299.6 770.5,298.6 771.1,299.5 771.7,300.2 772.3,300.7 772.9,299.6 773.5,300.6 774.1,298.6 774.7,300.9 775.3,304.1 775.9,301.4 776.5,300.8 777.1,300.6 777.7,299.1 778.3,301.9 778.9,302.7 779.5,302.2 780.1,301 780.7,302.1 781.3,301.5 781.9,304.4 782.5,301.7 783.1,304.1 783.7,301.7 784.3,301.3 784.9,303 785.5,303.2 786.1,302.3 786.7,305 787.3,301 787.9,303.2 788.5,303.7 789.1,302.5 789.7,304.4 790.3,301.6 790.9,301.7 791.5,304.6 792.1,304.7 792.7,306.4 793.3,305.3 793.9,305 794.5,305.2 795.1,305.8 795.7,302.9 796.3,306.1 796.9,305.1 797.5,306.4 798.1,303.1 798.7,307.4 799.3,308.1 799.9,306.7 800.5,310 801.1,303.7 801.7,305.3 802.3,306.4 802.9,307.6 803.5,306.9 804.1,307.5 804.7,308 805.3,306.1 805.9,309.3 806.5,309.5 807.1,306.5 807.7,306.2 808.3,306.8 808.9,306.2 809.5,308.2 810.1,307.9 810.7,309 811.3,306.2 811.9,308.3 812.5,308.5 813.1,309.2 813.7,309.4 814.3,309.5 814.9,309.1 815.5,307.1 816.1,308.9 816.7,312.2 817.3,311.1 817.9,310.8 818.5,307 819.1,310.8 819.7,311.5 820.3,309.9 820.9,307.5 821.5,312.5 822.1,309.3 822.7,310.8 823.3,312 823.9,312.4 824.5,312 825.1,307 825.7,310.6 826.3,309.3 826.9,311.1 827.5,309.9 828.1,314.4 828.7,308.8 829.3,313.4 829.9,311.4 830.5,312.5 831.1,311.3 831.7,311.2 832.3,310.6 832.9,314.4 833.5,312.4 834.1,311.9 834.7,313 835.3,312.8 835.9,311.9 836.5,313.2 837.1,313.6 837.7,315.8 838.3,311.1 838.9,309.5 839.5,312.3 840.1,316.3 840.7,314.3 841.3,313.2 841.9,312.8 842.5,311 843.1,316 843.7,315.5 844.3,316.7 844.9,312.2 845.5,316.4 846.1,315.6 846.7,315.3 847.3,312.5 847.9,314.5 848.5,313.4 849.1,314.7 849.7,311.7 850.3,312.9 850.9,314 851.5,311.5 852.1,315.4 852.7,316.3 853.3,314.4 853.9,314.9 854.5,315.2 855.1,317.2 855.7,316.8 856.3,317.3 856.9,316.7 857.5,316.3 858.1,317.1 858.7,318.2 859.3,320.3 859.9,317.9 860.5,315.5 861.1,315.5 861.7,315 862.3,317.1 862.9,317.5 863.5,315.3 864.1,316.1 864.7,317.6 865.3,318.8 865.9,317 866.5,320.9 867.1,318.3 867.7,318.1 868.3,315.7 868.9,319.2 869.5,317 870.1,317.5 870.7,314.8 871.3,319.9 871.9,321.4 872.5,318.3 873.1,317.6 873.7,318.2 874.3,317.6 874.9,319.6 875.5,319.4 876.1,318.2 876.7,316.6 877.3,317.9 877.9,318.6 878.5,317.7 879.1,322.4 879.7,316.6 880.3,317.2 880.9,318.8 881.5,321 882.1,318.7 882.7,318.5 883.3,321 883.9,322.7 884.5,319.1 885.1,321.6 885.7,322 886.3,319.9 886.9,318.6 887.5,320.1 888.1,320.2 888.7,321.9 889.3,319.7 889.9,324.8 890.5,322.9 891.1,321.1 891.7,321.3 892.3,320.6 892.9,318.8 893.5,321.5 894.1,322.2 894.7,321.2 895.3,323.2 895.9,321.7 896.5,321.6 897.1,320.3 897.7,323.1 898.3,319.5 898.9,321.5 899.5,321.5 900.1,324.9 900.7,320.2 901.3,322.5 901.9,324.1 902.5,322.1 903.1,324.6 903.7,322.6 904.3,323.3 904.9,324.4 905.5,324.3 906.1,321.8 906.7,325 907.3,321.9 907.9,326.3 908.5,322.1 909.1,324.2 909.7,322.5 910.3,325.4 910.9,325.3 911.5,324.1 912.1,324.4 912.7,319.4 913.3,322.2 913.9,323.7 914.5,323.3 915.1,323.7 915.7,324.5 916.3,326.8 916.9,324.1 917.5,323.7 918.1,324.2 918.7,325.3 919.3,325.5 919.9,324.9 920.5,326.7 921.1,324.7 921.7,324.6 922.3,323.3 922.9,325.7 923.5,323.8 924.1,326.7 924.7,323.4 925.3,325.5 925.9,324.6 926.5,322.5 927.1,318.1 927.7,325 928.3,324.1 928.9,323.3 929.5,322.8 930.1,325.9 930.7,324.5 931.3,321.8 931.9,328.1" fill="none" stroke="#000" stroke-width="1.0" stroke-linejoin="round" stroke-linecap="round"/><polyline points="980.3,394.7 981.3,395.7 982.3,396.3 983.3,393.7 984.3,396.5 985.3,395.7 986.3,396.5 987.3,395.7 988.3,397.1 989.3,393.7 990.3,398 991.3,397.1 992.3,394.2 993.3,396.2 994.3,395.9 995.3,392.4 996.3,396.1 997.3,394.2 998.3,394.7 999.3,394.1 1000.3,394.4 1001.3,395.2 1002.3,395.2 1003.3,392.6 1004.3,394.6 1005.3,392.9 1006.3,393 1007.3,394.5 1008.3,396.4 1009.3,396 1010.3,394 1011.3,393.8 1012.3,393.6 1013.3,395.2 1014.3,396.4 1015.3,395 1016.3,396 1017.3,395.4 1018.3,397.3 1019.3,391.7 1020.3,391.4 1021.3,394.5 1022.3,395.8 1023.3,394.1 1024.3,395.5 1025.3,392.9 1026.3,392.7 1027.3,393.6 1028.3,396.1 1029.3,395.8 1030.3,393.6 1031.3,395 1032.3,393.6 1033.3,394.7 1034.3,392.9 1035.3,394.6 1036.3,393.4 1037.3,394.5 1038.3,393.5 1039.3,393.3 1040.3,394.7 1041.3,394 1042.3,394.6 1043.3,393.8 1044.3,395.3 1045.3,392.5 1046.3,394.6 1047.3,395 1048.3,391.9 1049.3,393.7 1050.3,390.3 1051.3,376.4 1052.3,354.4 1053.3,339.4 1054.3,331.5 1055.3,324.5 1056.3,321.2 1057.3,320.2 1058.3,317.6 1059.3,316.7 1060.3,318.5 1061.3,316 1062.3,318 1063.3,320 1064.3,320 1065.3,321.7 1066.3,321 1067.3,323.5 1068.3,324 1069.3,321.6 1070.3,323.1 1071.3,324.2 1072.3,327 1073.3,327 1074.3,327.5 1075.3,327.9 1076.3,329.2 1077.3,330.3 1078.3,328.5 1079.3,327.4 1080.3,331.6 1081.3,330.7 1082.3,331.7 1083.3,331.9 1084.3,331 1085.3,331 1086.3,335.5 1087.3,336.2 1088.3,336.2 1089.3,335.4 1090.3,335.8 1091.3,335 1092.3,336.1 1093.3,335.6 1094.3,335.7 1095.3,337.2 1096.3,339.9 1097.3,334.4 1098.3,338.7 1099.3,339.1 1100.3,336.4 1101.3,339.2 1102.3,339.1 1103.3,338.5 1104.3,338.8 1105.3,337.6 1106.3,342.9 1107.3,344.2 1108.3,343.3 1109.3,340.6 1110.3,341.8 1111.3,342.2 1112.3,340.6 1113.3,341.7 1114.3,343.2 1115.3,341.9 1116.3,339.9 1117.3,340.9 1118.3,343.5 1119.3,342.8 1120.3,343.1 1121.3,345.9 1122.3,344.1 1123.3,343 1124.3,344.2 1125.3,348 1126.3,342.9 1127.3,347.8 1128.3,347.4 1129.3,345.1 1130.3,345 1131.3,348 1132.3,346.3 1133.3,345.2 1134.3,349.2 1135.3,346.8 1136.3,347.2 1137.3,346.9 1138.3,346.6 1139.3,347.5 1140.3,346.9 1141.3,348.5 1142.3,349.6 1143.3,349.8 1144.3,350.2 1145.3,350.9 1146.3,349.9 1147.3,347.9 1148.3,350.7 1149.3,346.7 1150.3,348.4 1151.3,350.2 1152.3,347.2 1153.3,352.5 1154.3,348.7 1155.3,348.1 1156.3,349.5 1157.3,349.7 1158.3,351.1 1159.3,351.1 1160.3,353.2 1161.3,351.5 1162.3,352.2 1163.3,350.6 1164.3,353.2 1165.3,351.3 1166.3,349.6 1167.3,355 1168.3,351.4 1169.3,351.5 1170.3,351.9 1171.3,354.5 1172.3,351.2 1173.3,353.2 1174.3,354.9 1175.3,357.2 1176.3,353.8 1177.3,354.5 1178.3,353.2 1179.3,357.9 1180.3,354.7 1181.3,354.9 1182.3,355.4 1183.3,353.9 1184.3,355.5 1185.3,353.6 1186.3,358.2 1187.3,355.7 1188.3,355.9 1189.3,358.1 1190.3,354.5 1191.3,358.8 1192.3,359.2 1193.3,355.6 1194.3,358.1 1195.3,357 1196.3,358.7 1197.3,357.5 1198.3,356.2 1199.3,358.8 1200.3,357.6 1201.3,358.4 1202.3,359.8 1203.3,360.3 1204.3,359.5 1205.3,356.4 1206.3,359.9 1207.3,358.5 1208.3,360.8 1209.3,359 1210.3,361.7 1211.3,360.4 1212.3,359.7 1213.3,360.3 1214.3,357.2 1215.3,361.1 1216.3,360.5 1217.3,358.7 1218.3,361.2 1219.3,361.1 1220.3,361.3 1221.3,360.6 1222.3,362.2 1223.3,362.3 1224.3,361.2 1225.3,361.1 1226.3,360.6 1227.3,360.4 1228.3,362.5 1229.3,360.7 1230.3,359.4 1231.3,362.2 1232.3,363.7 1233.3,361.5 1234.3,363.5 1235.3,362.9 1236.3,360.7 1237.3,362.9 1238.3,362.3 1239.3,363.7 1240.3,358.2 1241.3,364.1 1242.3,364.1 1243.3,361.6 1244.3,364.9 1245.3,363.1 1246.3,363.8 1247.3,365 1248.3,365.9 1249.3,364.2 1250.3,365.2 1251.3,365 1252.3,363.2 1253.3,367.2 1254.3,365.9 1255.3,365.1 1256.3,366.7 1257.3,366 1258.3,364.4 1259.3,367.1 1260.3,365.7 1261.3,366.8 1262.3,367.4 1263.3,367.6 1264.3,369.2 1265.3,366.7 1266.3,366.2 1267.3,365.5 1268.3,365.8 1269.3,367.9 1270.3,367.6 1271.3,365.7 1272.3,366.2 1273.3,366.6 1274.3,369.9 1275.3,366 1276.3,368.2 1277.3,365.1 1278.3,367.4 1279.3,370.1 1280.3,366 1281.3,370 1282.3,365.2 1283.3,368.4 1284.3,366.7 1285.3,368.5 1286.3,368.2 1287.3,370 1288.3,369.3 1289.3,369.2 1290.3,368.2 1291.3,369.9 1292.3,368 1293.3,368.3 1294.3,368.4 1295.3,370.4 1296.3,373.1 1297.3,369.5 1298.3,372.7 1299.3,368.1 1300.3,368.8 1301.3,370.7 1302.3,370.9 1303.3,371.2 1304.3,372.6 1305.3,369.8 1306.3,371.9 1307.3,370.7 1308.3,365.8 1309.3,368.8 1310.3,369.6 1311.3,370.7 1312.3,371.4 1313.3,370.2 1314.3,372.8 1315.3,369.2 1316.3,370.8 1317.3,372.4 1318.3,369.2 1319.3,373 1320.3,372.6 1321.3,370.8 1322.3,371.1 1323.3,371 1324.3,371.2 1325.3,373.2 1326.3,372.1 1327.3,369.1 1328.3,368.8 1329.3,372.3 1330.3,367.2 1331.3,368.9 1332.3,370.4 1333.3,371.4 1334.3,373.6 1335.3,371.8 1336.3,377.1 1337.3,371.9 1338.3,373 1339.3,373.3 1340.3,371.5 1341.3,373.2 1342.3,372.7 1343.3,372.1 1344.3,370.8 1345.3,371.2 1346.3,373.2 1347.3,371.9 1348.3,372.7 1349.3,372.7 1350.3,372.6 1351.3,372.2 1352.3,373.2 1353.3,373.6 1354.3,374.5 1355.3,373.2 1356.3,371.5 1357.3,371.4 1358.3,373.5 1359.3,370.1 1360.3,371.8 1361.3,374.3 1362.3,372.2 1363.3,371.7 1364.3,374.8 1365.3,368.6 1366.3,372.8 1367.3,372.3 1368.3,372.3 1369.3,374.5 1370.3,375.4 1371.3,374.9 1372.3,374 1373.3,373.6 1374.3,372.7 1375.3,373.1 1376.3,370.5 1377.3,372.2 1378.3,374 1379.3,372.9 1380.3,374.4 1381.3,370.6 1382.3,372.2 1383.3,371.5 1384.3,374.7 1385.3,372.6 1386.3,372.6 1387.3,371.1 1388.3,372.3" fill="none" stroke="#ff1a1a" stroke-width="3.0" stroke-linejoin="round" stroke-linecap="round"/><polyline points="1058,317.9 1058.6,315.2 1059.2,323.6 1059.8,319 1060.4,319.3 1061,317.4 1061.6,317.9 1062.2,319 1062.8,319.2 1063.4,317.9 1064,321.1 1064.6,321.3 1065.2,320.5 1065.8,319.7 1066.4,319.8 1067,320 1067.6,323.4 1068.2,322.5 1068.8,325.7 1069.4,322.3 1070,326.2 1070.6,325 1071.2,324 1071.8,327.9 1072.4,326.3 1073,328.1 1073.6,329.1 1074.2,328.1 1074.8,326.3 1075.4,328.1 1076,330.2 1076.6,327 1077.2,329.9 1077.8,328.6 1078.4,328.4 1079,328.5 1079.6,327.7 1080.2,329.9 1080.8,331.6 1081.4,326.8 1082,330.6 1082.6,332.3 1083.2,331.3 1083.8,334.1 1084.4,331.1 1085,334.7 1085.6,335.3 1086.2,334.7 1086.8,332.6 1087.4,338.3 1088,334.1 1088.6,335.9 1089.2,332.9 1089.8,333.6 1090.4,336.2 1091,332.5 1091.6,336.7 1092.2,339.7 1092.8,333 1093.4,335.6 1094,338.3 1094.6,335.8 1095.2,338.6 1095.8,337.3 1096.4,333.4 1097,331.6 1097.6,336.9 1098.2,339.6 1098.8,336 1099.4,340.7 1100,334.7 1100.6,339.8 1101.2,338.1 1101.8,338.4 1102.4,338.1 1103,337.6 1103.6,339 1104.2,337 1104.8,341.6 1105.4,337.2 1106,341.3 1106.6,337.8 1107.2,337.4 1107.8,341.9 1108.4,341.5 1109,341 1109.6,345 1110.2,339.6 1110.8,343.5 1111.4,342.4 1112,345.6 1112.6,339.6 1113.2,341.3 1113.8,341.1 1114.4,340.4 1115,339.1 1115.6,342.1 1116.2,342.1 1116.8,340.8 1117.4,342.4 1118,339.3 1118.6,346.2 1119.2,344.4 1119.8,343.8 1120.4,345.1 1121,342.9 1121.6,342.3 1122.2,342.6 1122.8,342.3 1123.4,343.1 1124,346.5 1124.6,343.3 1125.2,347.5 1125.8,345.5 1126.4,348.9 1127,343.7 1127.6,343.4 1128.2,343.7 1128.8,340.4 1129.4,346.9 1130,346.4 1130.6,345.8 1131.2,345.9 1131.8,347.8 1132.4,343.9 1133,346.8 1133.6,346.9 1134.2,348 1134.8,349.6 1135.4,347.5 1136,344.9 1136.6,347.9 1137.2,346.3 1137.8,347.2 1138.4,344.9 1139,346.6 1139.6,347.2 1140.2,346.8 1140.8,348.7 1141.4,351.7 1142,347.8 1142.6,346 1143.2,347.5 1143.8,350.7 1144.4,348.5 1145,350.7 1145.6,349 1146.2,350.9 1146.8,348 1147.4,351.8 1148,349.6 1148.6,350.6 1149.2,352.4 1149.8,344.7 1150.4,352.7 1151,355 1151.6,349.4 1152.2,348.8 1152.8,349.7 1153.4,351.7 1154,350.1 1154.6,347.8 1155.2,348.3 1155.8,347 1156.4,349.2 1157,348.7 1157.6,347.3 1158.2,351.8 1158.8,350.9 1159.4,352.4 1160,346.7 1160.6,353.4 1161.2,354.9 1161.8,350.7 1162.4,348.6 1163,347.5 1163.6,354 1164.2,351.9 1164.8,353.1 1165.4,351.9 1166,348.7 1166.6,351.3 1167.2,352.4 1167.8,350.7 1168.4,353.3 1169,351.2 1169.6,354.9 1170.2,348.6 1170.8,354 1171.4,353.2 1172,355.3 1172.6,356.4 1173.2,354.9 1173.8,354.2 1174.4,352.4 1175,356.2 1175.6,354.1 1176.2,355 1176.8,354 1177.4,354.7 1178,353 1178.6,360.2 1179.2,355.1 1179.8,353.9 1180.4,353.9 1181,355.7 1181.6,354.1 1182.2,356.8 1182.8,355.3 1183.4,356 1184,357.9 1184.6,356.3 1185.2,356.5 1185.8,356.9 1186.4,358.9 1187,355.7 1187.6,358.7 1188.2,357.7 1188.8,357.3 1189.4,353.6 1190,356.8 1190.6,353.4 1191.2,355.2 1191.8,356 1192.4,355.6 1193,353.9 1193.6,358.9 1194.2,356.5 1194.8,360 1195.4,357.1 1196,353.3 1196.6,360.4 1197.2,359.5 1197.8,361.2 1198.4,356.9 1199,353.1 1199.6,358 1200.2,355.4 1200.8,355.9 1201.4,355.6 1202,355.4 1202.6,360.4 1203.2,355.8 1203.8,353.3 1204.4,362.3 1205,356.7 1205.6,356 1206.2,360.5 1206.8,359.3 1207.4,355.2 1208,361 1208.6,360.8 1209.2,359.9 1209.8,355.2 1210.4,359.2 1211,355.2 1211.6,359.8 1212.2,360.8 1212.8,361.5 1213.4,357.8 1214,362.9 1214.6,359.5 1215.2,359.3 1215.8,358.4 1216.4,361.2 1217,361.5 1217.6,360.2 1218.2,358.7 1218.8,363.3 1219.4,361.1 1220,362.4 1220.6,361.9 1221.2,361 1221.8,359.3 1222.4,359.5 1223,360.1 1223.6,355.4 1224.2,359.5 1224.8,363 1225.4,361.3 1226,358 1226.6,362.1 1227.2,360.4 1227.8,363.6 1228.4,360.9 1229,359.5 1229.6,361.8 1230.2,360.9 1230.8,363 1231.4,360.3 1232,364.5 1232.6,361.2 1233.2,359.1 1233.8,360.6 1234.4,361.1 1235,364 1235.6,363.1 1236.2,362.1 1236.8,364.1 1237.4,363.2 1238,364.5 1238.6,361.6 1239.2,365.7 1239.8,358.3 1240.4,359.7 1241,362.8 1241.6,364.5 1242.2,366 1242.8,363.5 1243.4,363.2 1244,364 1244.6,363.8 1245.2,363.3 1245.8,360.7 1246.4,361.7 1247,363.5 1247.6,360.4 1248.2,363.6 1248.8,366 1249.4,363.2 1250,361.7 1250.6,360.9 1251.2,362.4 1251.8,364.4 1252.4,366.2 1253,364.2 1253.6,365.5 1254.2,365.7 1254.8,364.1 1255.4,363.2 1256,367.9 1256.6,366.3 1257.2,368 1257.8,364.1 1258.4,364.4 1259,365.8 1259.6,364.5 1260.2,362.9 1260.8,364 1261.4,362.9 1262,365.1 1262.6,361.4 1263.2,367 1263.8,367.5 1264.4,361.8 1265,365.1 1265.6,366.2 1266.2,363.6 1266.8,366.3 1267.4,367.4 1268,365.2 1268.6,368.4 1269.2,366.9 1269.8,364 1270.4,364.8 1271,369.6 1271.6,370 1272.2,367.6 1272.8,370 1273.4,364.2 1274,370.9 1274.6,371 1275.2,366.7 1275.8,367.2 1276.4,365.2 1277,373.8 1277.6,367.7 1278.2,367.1 1278.8,366 1279.4,366.6 1280,366.6 1280.6,370.1 1281.2,369.4 1281.8,366.3 1282.4,368.5 1283,366.5 1283.6,368.6 1284.2,362.2 1284.8,372.3 1285.4,369.2 1286,366.6 1286.6,370.7 1287.2,368.9 1287.8,368 1288.4,372.6 1289,369.5 1289.6,370.5 1290.2,371.9 1290.8,370 1291.4,369.1 1292,368.8 1292.6,366.9 1293.2,371 1293.8,365.3 1294.4,371 1295,371.7 1295.6,370.9 1296.2,369.5 1296.8,367.7 1297.4,370.5 1298,372.4 1298.6,371 1299.2,371.6 1299.8,368.2 1300.4,368.4 1301,371 1301.6,365.4 1302.2,368.3 1302.8,366.5 1303.4,366.2 1304,371.3 1304.6,372 1305.2,370.4 1305.8,369.4 1306.4,367.8 1307,370.1 1307.6,368.6 1308.2,372.1 1308.8,367 1309.4,369 1310,373.5 1310.6,368 1311.2,371.7 1311.8,369.5 1312.4,363.5 1313,370.8 1313.6,370.7 1314.2,367.7 1314.8,371.3 1315.4,373.3 1316,370.4 1316.6,371.7 1317.2,368.8 1317.8,374 1318.4,370.7 1319,371.2 1319.6,368.3 1320.2,369.7 1320.8,373.4 1321.4,371.8 1322,369.1 1322.6,367.1 1323.2,366.5 1323.8,372.4 1324.4,368.9 1325,370.6 1325.6,374.8 1326.2,368.3 1326.8,369.5 1327.4,373.5 1328,371.5 1328.6,373.6 1329.2,373.6 1329.8,369.9 1330.4,370.3 1331,373.1 1331.6,371.7 1332.2,370.9 1332.8,373.5 1333.4,372.4 1334,367 1334.6,375.8 1335.2,374.3 1335.8,369.5 1336.4,373.6 1337,370.1 1337.6,366.1 1338.2,371.9 1338.8,373.4 1339.4,374.6 1340,369.1 1340.6,373.4 1341.2,371.1 1341.8,372.4 1342.4,371.3 1343,371.8 1343.6,368.5 1344.2,373.5 1344.8,370.7 1345.4,372.8 1346,370.5 1346.6,373.3 1347.2,373.6 1347.8,371.8 1348.4,370 1349,370.7 1349.6,372.5 1350.2,374.4 1350.8,372.5 1351.4,372.3 1352,373.8 1352.6,367.9 1353.2,371.4 1353.8,373.8 1354.4,372.9 1355,372.8 1355.6,374.1 1356.2,369 1356.8,373.3 1357.4,372.7 1358,366.2 1358.6,374.2 1359.2,369.9 1359.8,372.2 1360.4,373.5 1361,371.5 1361.6,371.9 1362.2,372.1 1362.8,370.6 1363.4,371.9 1364,368.9 1364.6,374.5 1365.2,370.6 1365.8,370.6 1366.4,373.3 1367,372.3 1367.6,370.3 1368.2,370.8 1368.8,375.6 1369.4,372.6 1370,370.7 1370.6,372.1 1371.2,373.3 1371.8,372.1 1372.4,374.1 1373,372.2 1373.6,376.8 1374.2,377.5 1374.8,372.6 1375.4,368.8 1376,368.7 1376.6,370.8 1377.2,376.6 1377.8,373.1 1378.4,374.8 1379,375.3 1379.6,373.8 1380.2,374.3 1380.8,377.6 1381.4,371 1382,374.4 1382.6,375.6 1383.2,375.9 1383.8,374.1 1384.4,372.4 1385,375.8 1385.6,375.6 1386.2,368.5 1386.8,368.1 1387.4,372.9 1388,376.4 1388.6,370.3" fill="none" stroke="#ff1a1a" stroke-width="1.0" stroke-linejoin="round" stroke-linecap="round"/><polyline points="980.3,392.3 980.9,397.3 981.5,398.3 982.1,397.2 982.7,399 983.3,395.3 983.9,391.6 984.5,395.1 985.1,396.5 985.7,396.3 986.3,393.7 986.9,389.9 987.5,400.7 988.1,395.2 988.7,396.4 989.3,393.5 989.9,393 990.5,396.8 991.1,397.6 991.7,392.7 992.3,393.7 992.9,393.3 993.5,392.3 994.1,393 994.7,394.8 995.3,390.6 995.9,400.7 996.5,391.4 997.1,394.1 997.7,399.7 998.3,394 998.9,395.2 999.5,396.7 1000.1,399.5 1000.7,392.7 1001.3,399 1001.9,392.1 1002.5,400 1003.1,398 1003.7,396.4 1004.3,394.2 1004.9,399.1 1005.5,397.4 1006.1,398.3 1006.7,391.6 1007.3,395 1007.9,395.8 1008.5,396.5 1009.1,390.7 1009.7,390.8 1010.3,396.3 1010.9,393.9 1011.5,395.5 1012.1,392 1012.7,395.2 1013.3,392.6 1013.9,391.8 1014.5,391.8 1015.1,395.8 1015.7,390.5 1016.3,390.1 1016.9,392.5 1017.5,395.6 1018.1,396.5 1018.7,396.5 1019.3,397.2 1019.9,393.3 1020.5,393.6 1021.1,398.8 1021.7,394.4 1022.3,395.5 1022.9,392.3 1023.5,395.9 1024.1,391.4 1024.7,393.5 1025.3,394 1025.9,394.1 1026.5,396.2 1027.1,396.6 1027.7,396.9 1028.3,394.7 1028.9,392.9 1029.5,394.3 1030.1,393.3 1030.7,392.3 1031.3,398.8 1031.9,391.3 1032.5,396.3 1033.1,393.2 1033.7,389.8 1034.3,399.7 1034.9,393.3 1035.5,391.4 1036.1,400.4 1036.7,393.5 1037.3,394.6 1037.9,398.5 1038.5,391.7 1039.1,391.8 1039.7,396.2 1040.3,395.4 1040.9,392.1 1041.5,390.4 1042.1,390.7 1042.7,395.7 1043.3,397.7 1043.9,397.6" fill="none" stroke="#ff1a1a" stroke-width="1.0" stroke-linejoin="round" stroke-linecap="round"/><polyline points="979.5,384 980.5,383.9 981.5,382.5 982.5,384.3 983.5,381.7 984.5,379.4 985.5,387.4 986.5,385.1 987.5,379.8 988.5,382.3 989.5,383.5 990.5,385.9 991.5,388.4 992.5,386.4 993.5,385.1 994.5,387.3 995.5,386.1 996.5,387.3 997.5,385.7 998.5,384.8 999.5,390.6 1000.5,387.3 1001.5,388.6 1002.5,387.3 1003.5,387.7 1004.5,388.4 1005.5,390.9 1006.5,392.5 1007.5,391.3 1008.5,389.1 1009.5,396.8 1010.5,392.8 1011.5,393.3 1012.5,390.3 1013.5,391.3 1014.5,393.4 1015.5,388.5 1016.5,390.9 1017.5,393.8 1018.5,398.6 1019.5,394.4 1020.5,391.5 1021.5,391.4 1022.5,396.5 1023.5,392.9 1024.5,394.2 1025.5,399.6 1026.5,395.7 1027.5,395 1028.5,394.4 1029.5,399.3 1030.5,399.6 1031.5,395.5 1032.5,394.1 1033.5,397.3 1034.5,400.9 1035.5,399.1 1036.5,395.7 1037.5,399.4 1038.5,400.7 1039.5,399.2 1040.5,399.9 1041.5,399.9 1042.5,399 1043.5,399 1044.5,397.7 1045.5,398.4 1049.6,406 1050.2,347 1052.8,283.5 1055.3,220 1057.6,182 1060.7,151.5 1060.7,152.1 1061.7,148.8 1062.7,148.6 1063.7,146 1064.7,141.8 1065.7,143.6 1066.7,140.2 1067.7,141 1068.7,142.5 1069.7,140.2 1070.7,138.1 1071.7,138.5 1072.7,140.7 1073.7,137.1 1074.7,139.4 1075.7,139.4 1076.7,137.1 1077.7,138.7 1078.7,139.1 1079.7,137.5 1080.7,138.3 1081.7,140.2 1082.7,138 1083.7,139 1084.7,142 1085.7,141.2 1086.7,139.5 1087.7,141.9 1088.7,145 1089.7,140.6 1090.7,144.3 1091.7,145.1 1092.7,145 1093.7,147.3 1094.7,146.7 1095.7,151 1096.7,152.4 1097.7,150 1098.7,152.1 1099.7,153.8 1100.7,153.9 1101.7,156.4 1102.7,155.4 1103.7,158.7 1104.7,158.5 1105.7,159.8 1106.7,161.6 1107.7,163.2 1108.7,161.5 1109.7,165 1110.7,166.1 1111.7,165.7 1112.7,169.1 1113.7,166.9 1114.7,168.2 1115.7,170.5 1116.7,170 1117.7,173.9 1118.7,173.2 1119.7,176.4 1120.7,173.5 1121.7,174.7 1122.7,179.1 1123.7,176.9 1124.7,181.1 1125.7,179.6 1126.7,182.3 1127.7,184.8 1128.7,184.2 1129.7,183.9 1130.7,186 1131.7,189.5 1132.7,189.5 1133.7,191.5 1134.7,192 1135.7,193.6 1136.7,194.2 1137.7,194.4 1138.7,197.9 1139.7,198.7 1140.7,197 1141.7,200.9 1142.7,203.2 1143.7,205.5 1144.7,201.9 1145.7,205 1146.7,206.6 1147.7,207.8 1148.7,206.7 1149.7,209.4 1150.7,209.1 1151.7,210.6 1152.7,210.9 1153.7,213 1154.7,213 1155.7,215 1156.7,215.4 1157.7,217.8 1158.7,219.8 1159.7,218.4 1160.7,218.4 1161.7,220.1 1162.7,220.6 1163.7,220 1164.7,223.4 1165.7,223.6 1166.7,226.4 1167.7,225.8 1168.7,228.1 1169.7,228.8 1170.7,227.9 1171.7,229 1172.7,229.6 1173.7,230.5 1174.7,233.2 1175.7,232.2 1176.7,233.2 1177.7,233.5 1178.7,237.4 1179.7,235.8 1180.7,237 1181.7,236.8 1182.7,239.2 1183.7,238.7 1184.7,239.7 1185.7,238.6 1186.7,240 1187.7,243.5 1188.7,245.1 1189.7,242.6 1190.7,246 1191.7,246.8 1192.7,251.5 1193.7,246.5 1194.7,247.7 1195.7,247.8 1196.7,251.2 1197.7,252.2 1198.7,251 1199.7,254.2 1200.7,255.7 1201.7,252.9 1202.7,255 1203.7,254.6 1204.7,254.7 1205.7,255.7 1206.7,256.7 1207.7,255.9 1208.7,258.3 1209.7,260.2 1210.7,258.5 1211.7,259.8 1212.7,260 1213.7,262.5 1214.7,262.5 1215.7,264.6 1216.7,263.6 1217.7,262.7 1218.7,266.2 1219.7,265.7 1220.7,268.4 1221.7,268.5 1222.7,264.5 1223.7,266.2 1224.7,269.7 1225.7,269.3 1226.7,267.9 1227.7,271 1228.7,274.2 1229.7,274 1230.7,272.6 1231.7,274.9 1232.7,276.6 1233.7,275.6 1234.7,279.1 1235.7,276.3 1236.7,280.9 1237.7,280.8 1238.7,280.1 1239.7,280.4 1240.7,280.8 1241.7,280.2 1242.7,283.5 1243.7,284.5 1244.7,284.4 1245.7,284.3 1246.7,284.6 1247.7,283.8 1248.7,284.8 1249.7,284.3 1250.7,287.6 1251.7,286.2 1252.7,289.2 1253.7,287.7 1254.7,291.3 1255.7,292.1 1256.7,292.6 1257.7,292.7 1258.7,291.2 1259.7,291.8 1260.7,291.8 1261.7,293.9 1262.7,296.4 1263.7,293.1 1264.7,298.6 1265.7,295.1 1266.7,294.8 1267.7,297.5 1268.7,299.2 1269.7,297.8 1270.7,297.4 1271.7,301.9 1272.7,298.5 1273.7,302.1 1274.7,301.5 1275.7,301.3 1276.7,302.5 1277.7,301.6 1278.7,302.1 1279.7,304.7 1280.7,303.4 1281.7,304.4 1282.7,308.1 1283.7,309.2 1284.7,308.8 1285.7,309.2 1286.7,308.1 1287.7,309.2 1288.7,308.7 1289.7,306.4 1290.7,311.2 1291.7,311.8 1292.7,313.5 1293.7,311 1294.7,314.8 1295.7,313 1296.7,312.6 1297.7,314.5 1298.7,316.7 1299.7,315.9 1300.7,317.1 1301.7,315.8 1302.7,318.3 1303.7,319.5 1304.7,317.5 1305.7,319.8 1306.7,317.9 1307.7,320.7 1308.7,318.8 1309.7,322 1310.7,322 1311.7,321 1312.7,323.6 1313.7,322.3 1314.7,324.3 1315.7,323.5 1316.7,326.1 1317.7,325.1 1318.7,328.3 1319.7,327.4 1320.7,328 1321.7,325.8 1322.7,325.2 1323.7,327.5 1324.7,331.6 1325.7,328.2 1326.7,331.7 1327.7,332.2 1328.7,330 1329.7,331 1330.7,333.6 1331.7,331.8 1332.7,332.1 1333.7,332.3 1334.7,333.6 1335.7,333.8 1336.7,336.2 1337.7,335.2 1338.7,337 1339.7,335.6 1340.7,339.7 1341.7,336.5 1342.7,336.9 1343.7,336.4 1344.7,335.5 1345.7,337 1346.7,338.9 1347.7,337.6 1348.7,340.5 1349.7,337.4 1350.7,337.7 1351.7,340.8 1352.7,341.2 1353.7,339.5 1354.7,342.9 1355.7,343.7 1356.7,342.6 1357.7,340.7 1358.7,344.5 1359.7,342.8 1360.7,343.3 1361.7,344.5 1362.7,343.2 1363.7,346.7 1364.7,344 1365.7,346.7 1366.7,346.7 1367.7,348.4 1368.7,347 1369.7,347.8 1370.7,346.4 1371.7,346.9 1372.7,346.7 1373.7,348.9 1374.7,347.3 1375.7,350.6 1376.7,348.7 1377.7,347.5 1378.7,348.5 1379.7,351.4 1380.7,349.4 1381.7,351.2 1382.7,348.5 1383.7,351.6 1384.7,352.4 1385.7,352.3 1386.7,353 1387.7,350.9 1388.7,350.3" fill="none" stroke="#000" stroke-width="3.2" stroke-linejoin="round" stroke-linecap="round"/><polyline points="1066.7,138.1 1067.3,139.6 1067.9,139.6 1068.5,139.5 1069.1,142.1 1069.7,140.1 1070.3,140.4 1070.9,139.6 1071.5,137.7 1072.1,139.8 1072.7,140.8 1073.3,139.5 1073.9,138 1074.5,136.6 1075.1,142.2 1075.7,137.3 1076.3,137.1 1076.9,136 1077.5,139.2 1078.1,138.7 1078.7,136.8 1079.3,138.1 1079.9,139.1 1080.5,138.1 1081.1,137.1 1081.7,138.8 1082.3,140.1 1082.9,138 1083.5,139 1084.1,141.6 1084.7,142.8 1085.3,142.4 1085.9,141.7 1086.5,143.7 1087.1,140.8 1087.7,141.7 1088.3,141.7 1088.9,144.1 1089.5,141.1 1090.1,142 1090.7,146.3 1091.3,142.6 1091.9,140.6 1092.5,146.4 1093.1,147.6 1093.7,144.6 1094.3,145.3 1094.9,146.6 1095.5,148.7 1096.1,151.6 1096.7,151.9 1097.3,148.1 1097.9,154.3 1098.5,150.6 1099.1,153.4 1099.7,153.5 1100.3,153.6 1100.9,152.8 1101.5,159.9 1102.1,156.3 1102.7,159.6 1103.3,156.2 1103.9,159.3 1104.5,157.8 1105.1,160.2 1105.7,161.9 1106.3,158.9 1106.9,160.9 1107.5,162.6 1108.1,164.5 1108.7,164.9 1109.3,162.5 1109.9,162.2 1110.5,164.3 1111.1,167 1111.7,168 1112.3,164 1112.9,163.4 1113.5,166.6 1114.1,168.9 1114.7,171.3 1115.3,168 1115.9,169.7 1116.5,172.8 1117.1,169.9 1117.7,173.7 1118.3,175.7 1118.9,175.4 1119.5,177.4 1120.1,173.9 1120.7,172.3 1121.3,178.9 1121.9,177.9 1122.5,179.8 1123.1,178.2 1123.7,176.4 1124.3,178.4 1124.9,179.4 1125.5,179.4 1126.1,181.8 1126.7,182.8 1127.3,181.8 1127.9,180.1 1128.5,179.7 1129.1,184.8 1129.7,185.4 1130.3,184.8 1130.9,190.2 1131.5,186.5 1132.1,189.7 1132.7,190.4 1133.3,188.8 1133.9,193.5 1134.5,192.5 1135.1,193.1 1135.7,190.7 1136.3,192.7 1136.9,192.8 1137.5,195.3 1138.1,196.5 1138.7,198.8 1139.3,194.9 1139.9,199.3 1140.5,200 1141.1,202 1141.7,196.1 1142.3,202.7 1142.9,199.6 1143.5,202.5 1144.1,202.2 1144.7,202.2 1145.3,206.5 1145.9,206.6 1146.5,208 1147.1,206.8 1147.7,204.2 1148.3,209 1148.9,208.9 1149.5,211.7 1150.1,209.7 1150.7,208.6 1151.3,211.2 1151.9,209.1 1152.5,211.1 1153.1,212.1 1153.7,213.7 1154.3,213.3 1154.9,212.8 1155.5,215.7 1156.1,217.3 1156.7,217.4 1157.3,218 1157.9,217.2 1158.5,219.5 1159.1,217.2 1159.7,215.5 1160.3,218.6 1160.9,222.2 1161.5,217.2 1162.1,216.3 1162.7,224.5 1163.3,219.3 1163.9,223.8 1164.5,221.7 1165.1,225.5 1165.7,222 1166.3,222.9 1166.9,225.9 1167.5,225.5 1168.1,227.7 1168.7,230.2 1169.3,226.7 1169.9,227.8 1170.5,228.1 1171.1,228 1171.7,231.1 1172.3,229.4 1172.9,231.5 1173.5,234 1174.1,229.3 1174.7,231.7 1175.3,232.6 1175.9,232.8 1176.5,236.2 1177.1,235.7 1177.7,235.6 1178.3,234.7 1178.9,240.1 1179.5,231.3 1180.1,233.6 1180.7,237.2 1181.3,240.6 1181.9,237.7 1182.5,239.7 1183.1,237.2 1183.7,240.2 1184.3,239.8 1184.9,242 1185.5,240.8 1186.1,240.6 1186.7,241.8 1187.3,239.4 1187.9,243.5 1188.5,245.4 1189.1,243.3 1189.7,247.5 1190.3,246.6 1190.9,244.2 1191.5,248.2 1192.1,245.6 1192.7,249.6 1193.3,245.2 1193.9,247.1 1194.5,244.1 1195.1,248.1 1195.7,247.4 1196.3,247.9 1196.9,252.1 1197.5,252.5 1198.1,253.5 1198.7,250.9 1199.3,253.4 1199.9,248.5 1200.5,250.1 1201.1,252.9 1201.7,252.9 1202.3,252.8 1202.9,256.8 1203.5,258.5 1204.1,255 1204.7,258.5 1205.3,255.8 1205.9,255.6 1206.5,259 1207.1,258.1 1207.7,255 1208.3,258.5 1208.9,260.6 1209.5,255.9 1210.1,258 1210.7,260.3 1211.3,258 1211.9,258.9 1212.5,263.3 1213.1,264.8 1213.7,261.2 1214.3,261.2 1214.9,261.9 1215.5,259.5 1216.1,263.6 1216.7,264.9 1217.3,266 1217.9,268.8 1218.5,263.5 1219.1,267.9 1219.7,266.5 1220.3,265.8 1220.9,268.6 1221.5,267.1 1222.1,266.4 1222.7,269.7 1223.3,267.5 1223.9,269.7 1224.5,271 1225.1,270.6 1225.7,268.2 1226.3,272.2 1226.9,273.2 1227.5,269.7 1228.1,270.1 1228.7,267.8 1229.3,272.2 1229.9,270.4 1230.5,273.8 1231.1,274.7 1231.7,276.8 1232.3,274.1 1232.9,274.1 1233.5,276.7 1234.1,275.4 1234.7,277 1235.3,278.1 1235.9,275.1 1236.5,280.8 1237.1,278 1237.7,281 1238.3,281.3 1238.9,278.2 1239.5,276.6 1240.1,282.2 1240.7,283.1 1241.3,280.4 1241.9,281.4 1242.5,281.1 1243.1,283.1 1243.7,279.6 1244.3,282.4 1244.9,285 1245.5,285 1246.1,281.9 1246.7,287.5 1247.3,282.8 1247.9,285.5 1248.5,283.7 1249.1,286.1 1249.7,286 1250.3,287.2 1250.9,289.3 1251.5,285.1 1252.1,286.5 1252.7,288.6 1253.3,285.8 1253.9,289.2 1254.5,289.2 1255.1,289.3 1255.7,291.1 1256.3,292.3 1256.9,290.6 1257.5,289.7 1258.1,291.9 1258.7,288.6 1259.3,292.7 1259.9,293.7 1260.5,294.4 1261.1,297.1 1261.7,290.4 1262.3,293.8 1262.9,290.3 1263.5,293.3 1264.1,292.2 1264.7,296.4 1265.3,296.8 1265.9,292.9 1266.5,296.7 1267.1,297.3 1267.7,299.1 1268.3,294.9 1268.9,299.4 1269.5,297.7 1270.1,297.8 1270.7,300 1271.3,300.1 1271.9,299.9 1272.5,301.5 1273.1,303.4 1273.7,304.5 1274.3,301.9 1274.9,302.8 1275.5,298.1 1276.1,303.8 1276.7,298.3 1277.3,303 1277.9,304.9 1278.5,301.7 1279.1,303.9 1279.7,302.3 1280.3,307.5 1280.9,304.8 1281.5,307.9 1282.1,305 1282.7,307 1283.3,304.4 1283.9,304.1 1284.5,310.6 1285.1,311.7 1285.7,307.5 1286.3,307.6 1286.9,308.1 1287.5,309.6 1288.1,308 1288.7,311.6 1289.3,310.7 1289.9,311.7 1290.5,310.5 1291.1,313.8 1291.7,310.1 1292.3,309.3 1292.9,312.2 1293.5,313.5 1294.1,314.1 1294.7,312.8 1295.3,312.2 1295.9,313.1 1296.5,320.3 1297.1,311.7 1297.7,314.3 1298.3,315.7 1298.9,315.6 1299.5,317.4 1300.1,317.8 1300.7,317.2 1301.3,312.7 1301.9,312.9 1302.5,316.2 1303.1,317.9 1303.7,318.9 1304.3,317.9 1304.9,316.6 1305.5,320.5 1306.1,318.4 1306.7,321.2 1307.3,320.1 1307.9,318.8 1308.5,324.1 1309.1,320.6 1309.7,320.6 1310.3,318.6 1310.9,319.4 1311.5,319.4 1312.1,322.1 1312.7,321 1313.3,324.6 1313.9,323.4 1314.5,320.8 1315.1,324.3 1315.7,322.2 1316.3,328.4 1316.9,327.2 1317.5,324.8 1318.1,322 1318.7,325.9 1319.3,326.4 1319.9,327.5 1320.5,325.4 1321.1,325.5 1321.7,329.5 1322.3,327.7 1322.9,327.2 1323.5,328.7 1324.1,327.6 1324.7,330.9 1325.3,328.4 1325.9,329.4 1326.5,328.4 1327.1,331 1327.7,329.9 1328.3,330.7 1328.9,328.3 1329.5,328.1 1330.1,333.2 1330.7,333.1 1331.3,331.2 1331.9,330.5 1332.5,331.5 1333.1,332.6 1333.7,333.5 1334.3,332.5 1334.9,332.9 1335.5,337 1336.1,333.3 1336.7,333 1337.3,336.6 1337.9,337.6 1338.5,331.8 1339.1,331.8 1339.7,338.8 1340.3,338.8 1340.9,333.1 1341.5,337 1342.1,337.3 1342.7,337.7 1343.3,333.5 1343.9,334.6 1344.5,338 1345.1,337.9 1345.7,339 1346.3,339.2 1346.9,339.5 1347.5,340.3 1348.1,339.6 1348.7,339 1349.3,340.2 1349.9,342 1350.5,341.5 1351.1,339.2 1351.7,339.1 1352.3,342.5 1352.9,340.9 1353.5,340.2 1354.1,341.9 1354.7,342.4 1355.3,343.8 1355.9,344.9 1356.5,343.7 1357.1,342.7 1357.7,343.9 1358.3,340.3 1358.9,344.9 1359.5,344.6 1360.1,340.1 1360.7,339.7 1361.3,345.7 1361.9,346.1 1362.5,344.5 1363.1,345.2 1363.7,348.1 1364.3,342.2 1364.9,344.5 1365.5,344.3 1366.1,342.8 1366.7,348.7 1367.3,342.4 1367.9,347.4 1368.5,343.8 1369.1,343.9 1369.7,346 1370.3,347.2 1370.9,348.4 1371.5,347.2 1372.1,346.3 1372.7,347 1373.3,345.4 1373.9,346.7 1374.5,347.5 1375.1,347.3 1375.7,345.9 1376.3,349.3 1376.9,349.9 1377.5,349.4 1378.1,348.2 1378.7,353.1 1379.3,348.6 1379.9,350.4 1380.5,351.5 1381.1,350.8 1381.7,351.6 1382.3,348.8 1382.9,352.7 1383.5,348.2 1384.1,352.1 1384.7,350.7 1385.3,352 1385.9,350 1386.5,351.2 1387.1,350.5 1387.7,354.3 1388.3,355.8 1388.9,353.3" fill="none" stroke="#000" stroke-width="1.0" stroke-linejoin="round" stroke-linecap="round"/><polyline points="979.5,384.7 980.1,380.8 980.7,378.4 981.3,384.5 981.9,385.6 982.5,384.4 983.1,375.4 983.7,378.6 984.3,385.2 984.9,388 985.5,379.2 986.1,386.8 986.7,387.4 987.3,384.3 987.9,380.4 988.5,382.7 989.1,383.7 989.7,387 990.3,387.8 990.9,382.3 991.5,385.1 992.1,385.5 992.7,385.3 993.3,388.8 993.9,385.3 994.5,386.1 995.1,382 995.7,387.1 996.3,384 996.9,392.7 997.5,387.6 998.1,387.9 998.7,387.8 999.3,384.2 999.9,386.6 1000.5,388.4 1001.1,391 1001.7,389 1002.3,384.6 1002.9,388.1 1003.5,388.5 1004.1,384 1004.7,390.9 1005.3,391.7 1005.9,386.9 1006.5,396.3 1007.1,390.9 1007.7,388.4 1008.3,396.1 1008.9,388.7 1009.5,391.1 1010.1,385.4 1010.7,387.7 1011.3,396.4 1011.9,388.3 1012.5,389 1013.1,390.9 1013.7,389.4 1014.3,388.3 1014.9,389.1 1015.5,391.9 1016.1,397.1 1016.7,395 1017.3,399.7 1017.9,390.4 1018.5,393.7 1019.1,394.2 1019.7,395.1 1020.3,395.9 1020.9,388.7 1021.5,398.5 1022.1,394.2 1022.7,392.9 1023.3,395.4 1023.9,393 1024.5,391.2 1025.1,394 1025.7,389.5 1026.3,392.1 1026.9,397.8 1027.5,397.2 1028.1,392.5 1028.7,389.4 1029.3,396.9 1029.9,397.6 1030.5,396.5 1031.1,393.8 1031.7,397.2 1032.3,396.1 1032.9,397.9 1033.5,399.2 1034.1,397.6 1034.7,397.3 1035.3,399.7 1035.9,399 1036.5,395.8 1037.1,398.3 1037.7,400.7 1038.3,400.6 1038.9,398.1 1039.5,398.8 1040.1,396.3 1040.7,400.3 1041.3,403 1041.9,401.2 1042.5,398.7 1043.1,402.2 1043.7,400.5 1044.3,402.5 1044.9,397.1 1045.5,399.7 1046.1,403.5" fill="none" stroke="#000" stroke-width="1.0" stroke-linejoin="round" stroke-linecap="round"/><line x1="80.3" y1="244.7" x2="97" y2="244.7" stroke="#000" stroke-width="2.6" stroke-linecap="round"/><line x1="80.3" y1="267.4" x2="97" y2="267.4" stroke="#ff1a1a" stroke-width="2.6" stroke-linecap="round"/><line x1="500.4" y1="246.9" x2="518.5" y2="246.9" stroke="#000" stroke-width="3.3" stroke-linecap="butt"/><line x1="500.4" y1="270.7" x2="518.5" y2="270.7" stroke="#ff1a1a" stroke-width="3.3" stroke-linecap="butt"/><line x1="968.7" y1="246.5" x2="986.8" y2="246.5" stroke="#000" stroke-width="3.0" stroke-linecap="butt"/><line x1="968.7" y1="269.5" x2="986.8" y2="269.5" stroke="#ff1a1a" stroke-width="3.0" stroke-linecap="butt"/><path d="M202.29999999999998,303 H212.9 M207.6,303 V358 M202.29999999999998,358 H212.9" stroke="#000" stroke-width="1.6" fill="none"/><path d="M565.7,310.2 H576.3 M571.0,310.2 V349.6 M565.7,349.6 H576.3" stroke="#000" stroke-width="1.6" fill="none"/><path d="M1027.1000000000001,309.5 H1037.7 M1032.4,309.5 V350.9 M1027.1000000000001,350.9 H1037.7" stroke="#000" stroke-width="1.6" fill="none"/><path d="M130.79999999999998,86.7 H127.6 V186.5 H130.79999999999998 M107.2,164.20000000000002 V166.4 H203.2 V164.20000000000002" stroke="#000" stroke-width="1.5" fill="none"/><path d="M108,139.5 C108.2,137.1 108.4,129.1 109,125 C109.6,120.9 110,118.2 111.5,115 C113,111.8 115.9,108.6 118,106 C120.1,103.4 122.4,101.1 124,99.5 C125.6,97.9 126.4,97.2 127.6,96.5 C128.8,95.8 129.8,95.2 131,95.2 C132.2,95.2 133.2,95.5 135,96.5 C136.8,97.5 139.5,99.6 142,101 C144.5,102.4 147,103.9 150,105 C153,106.1 156.7,107 160,107.5 C163.3,108 166.7,108.2 170,108 C173.3,107.8 176.7,107.4 180,106.5 C183.3,105.6 187.3,103.9 190,102.5 C192.7,101.1 194.6,99.6 196,98 C197.4,96.4 197.9,94.9 198.5,93 C199.1,91.1 199.4,87.8 199.6,86.8" stroke="#000" stroke-width="1.9" fill="none"/><path d="M199.6,86.8 C199.5,89 199.4,93.6 199.2,100 C199,106.4 198.9,117.5 198.6,125 C198.3,132.5 197.9,140 197.5,145 C197.1,150 196.8,152.2 196,155 C195.2,157.8 194.3,160.4 193,162 C191.7,163.6 190.2,164 188,164.6 C185.8,165.2 184.7,165.3 180,165.5 C175.3,165.7 166.7,165.8 160,165.9 C153.3,166 144.7,166.1 140,166.3 C135.3,166.5 134.1,166.8 132,167.2 C129.9,167.6 129.3,167.7 127.6,168.5 C125.9,169.3 123.9,170.4 122,172 C120.1,173.6 118.3,175.6 116,178 C113.7,180.4 109.3,184.9 108,186.3" stroke="#000" stroke-width="1.9" fill="none"/><path d="M359.2,75 H354.7 V234.3 H359.2 M322.6,202.20000000000002 V204.4 H474.7 V202.20000000000002" stroke="#000" stroke-width="1.5" fill="none"/><polyline points="323,205 324,206.8 325,206.5 326,207.1 327,204.8 328,207.8 329,206.5 330,205 331,204.7 332,204.8 333,205.5 334,207.8 335,207.4 336,205.6 337,205.6 338,208.6 339,207.3 340,205.3 341,206 342,205.7 343,206.4 344,207.2 345,205.8 346,206.6 347,206.8 348,207 349,205.3 350,205.8 351,208.4 352,205.8 353,206.1 354,206.5 355,205.3 356,205.5 357,208 358,207.5 359,204.6 360,206 361,204.3 362,204 363,205.8 364,207.6 365,205.7 366,207.5 367,204.5 368,205.9 369,205.8 370,205.8 371,206.9 372,206.3 373,205 374,204 375,204.9 376,205.6 377,204.9 378,203.7 379,203.4 380,206.5 381,205.8 382,204.7 383,205.9 384,205.9 385,205 386,204.7 387,206.5 388,206.1 389,206.8 390,206.2 391,205.3 392,204.4 393,204.4 394,204.1 395,204.8 396,205 397,206 398,206.2 399,204.5 400,205 401,203 402,203.6 403,203 404,204.5 405,203.6 406,203.3 407,204.1 408,201.9 409,203.9 410,204.5 411,205.4 412,202.5 413,203.3 414,201.3 415,205.3 416,203.4 417,203.9 418,201.8 419,203.2 420,202.7 421,201.8 422,201.6 423,201.7 424,201.6 425,200.3 426,203.8 427,202 428,202 429,201.8 430,201.1 431,201.1 432,201.6 433,200.4 434,202.1 435,200.1 436,201.5 437,198.9 438,200.1 439,200.4 440,200.9 441,200.5 442,197.3 443,197.2 444,199.4 445,196.7 446,194.9 447,197.5 448,196.5 449,193.9 450,194.2 451,195.7 452,193.1 453,192.3 454,191.9 455,193.3 456,189.1 457,190.9 458,189.9 459,189 460,187.9 461,185.8 462,185.1 463,183.6 464,183.4 465,175.1 466,173.6 467,169.9" fill="none" stroke="#000" stroke-width="1.35" stroke-linejoin="round" stroke-linecap="round"/><polyline points="323,209.9 324,208.3 325,210.6 326,210.9 327,207.5 328,208.4 329,210.2 330,209.7 331,210.2 332,209.3 333,211.4 334,211.4 335,210.6 336,212 337,211.3 338,209.8 339,211.4 340,209.8 341,212.2 342,211.1 343,211.1 344,210.6 345,213 346,211.4 347,211.2 348,211.4 349,212.5 350,212.4 351,212.6 352,212.7 353,214.9 354,211.9 355,211.9 356,211.4 357,212.9 358,213.4 359,211.7 360,210.7 361,210.5 362,212.1 363,212.1 364,211.7 365,210 366,210.9 367,210.6 368,210.6 369,211.2 370,210.3 371,210.7 372,209.8 373,209.9 374,210.2 375,207.6 376,208.8 377,208.5 378,208.2 379,208.5 380,210.5 381,207.5 382,209.6 383,206.2 384,207.7 385,208.2 386,208.6 387,208.6 388,208.6 389,207 390,206.8 391,208.2 392,206.8 393,205.4 394,205.4 395,205.6 396,207.1 397,206.6 398,207.1 399,205.6 400,206.2 401,206.7 402,205.6 403,206.5 404,205.1 405,205.5 406,205.4 407,204.4 408,206.5 409,205.3 410,205.8 411,206.4 412,206.3 413,206.6 414,205.6 415,205.2 416,205.6 417,203.7 418,204 419,204.1 420,204.5 421,206.1 422,204.5 423,205.2 424,207.2 425,205.2 426,206.5 427,204.4 428,205.3 429,204.4 430,205.1 431,206.5 432,203.5 433,206.1 434,205.9 435,204.9 436,203.9 437,205.8 438,205.1 439,206 440,205.8 441,207.7 442,205.5 443,204.6 444,206.1 445,206.1 446,207.5 447,206.9 448,206.4 449,207.7 450,204.6 451,205.4 452,205.1 453,205.9 454,204.8 455,207.4 456,206.5 457,205.1 458,205.8 459,207.5 460,208.3 461,209.8 462,211 463,207.5 464,205.3 465,203.4 466,205.8 467,204" fill="none" stroke="#000" stroke-width="1.35" stroke-linejoin="round" stroke-linecap="round"/><path d="M466.5,178 L468.5,140 L470.5,95 L471.5,87 L472.5,86.5 L473.5,92 L473,120 L471.5,160 L470,195 L468.5,205" stroke="#000" stroke-width="1.1" fill="none"/><path d="M663.8000000000001,86.4 H660.6 V187 H663.8000000000001 M640.9,164.5 V166.7 H734.8 V164.5" stroke="#000" stroke-width="1.5" fill="none"/><path d="M641.3,132.2 C641.6,130.2 642,123.6 643,120 C644,116.4 645.6,113.9 647.4,110.8 C649.2,107.7 651.8,104.2 654,101.5 C656.2,98.8 658.5,96.2 660.6,94.6 C662.7,93 664.5,91.6 666.7,92.1 C668.9,92.6 671.2,95.5 673.8,97.6 C676.3,99.7 679.3,103 682,104.7 C684.7,106.4 687.3,107 690,107.8 C692.7,108.5 695.2,108.9 698.2,109.2 C701.2,109.5 704.6,109.5 708,109.4 C711.4,109.3 715.5,109.2 718.5,108.8 C721.5,108.4 724.2,107.7 726,107 C727.8,106.3 728.5,105.4 729.5,104.5 C730.5,103.6 731.3,102.2 731.7,101.7" stroke="#000" stroke-width="2.2" fill="none"/><path d="M731.7,101.7 C731.8,104.9 732.4,115.5 732.4,121 C732.4,126.5 732.1,130.9 731.8,135 C731.5,139.1 731.2,142.6 730.7,145.4 C730.2,148.2 729.5,150.2 728.8,152 C728.1,153.8 727.7,155.3 726.7,156.5 C725.7,157.7 724.4,158.3 723,159 C721.6,159.7 721.5,160.1 718.5,160.6 C715.5,161.1 709.4,161.7 705,162.2 C700.6,162.7 697.3,163.1 692.1,163.7 C686.9,164.3 678.2,164.9 673.8,165.7 C669.4,166.5 667.9,167.7 665.7,168.7 C663.5,169.7 663,169.9 660.6,171.8 C658.2,173.7 654.7,177.3 651.5,180 C648.3,182.7 643,186.7 641.3,188" stroke="#000" stroke-width="2.2" fill="none"/><path d="M774.7,75 H770.2 V236.3 H774.7 M736.9,202.20000000000002 V204.4 H890.3 V202.20000000000002" stroke="#000" stroke-width="1.5" fill="none"/><path d="M736.9,204.4 C739.1,204 744.8,202.9 750,202 C755.2,201.1 762.5,200.2 768.3,198.9 C774.1,197.6 779.8,195.5 785,194 C790.2,192.5 795.9,190.2 799.7,189.7 C803.5,189.2 805.2,190.7 808,191 C810.8,191.3 813.8,191.5 816.6,191.6 C819.4,191.7 822.2,191.7 825,191.3 C827.8,190.9 830.9,190.5 833.5,189.2 C836.1,187.8 838.9,185.6 840.8,183.2 C842.7,180.8 843.8,177.2 845,175 C846.2,172.8 846.7,171 848,169.9 C849.3,168.8 851.4,168.3 852.9,168.3 C854.4,168.3 855.4,169.3 857,170 C858.6,170.7 860.2,172 862.5,172.3 C864.8,172.6 868.9,172.5 871,171.8 C873.1,171.1 874,169.7 875,168 C876,166.3 875.9,166.1 877,161.4 C878.1,156.7 880.6,147.4 881.8,139.7 C883,132 883.4,122.2 884,115 C884.6,107.8 885,102 885.5,96.2 C886,90.5 886.3,83.3 886.7,80.5 C887.1,77.7 887.7,78.9 888,79.5 C888.3,80.1 888.5,83.2 888.6,84" stroke="#000" stroke-width="2.0" fill="none"/><path d="M888.6,84 C888.5,86.7 888.2,96 888,100 C887.8,104 888,102.9 887.4,108.3 C886.8,113.7 885.8,124.5 884.3,132.5 C882.8,140.6 880.6,149.8 878.2,156.6 C875.8,163.4 872.8,168.7 869.8,173.5 C866.8,178.3 863.7,182.6 860.1,185.6 C856.5,188.6 853.2,189.6 848,191.6 C842.8,193.6 836.8,195.5 828.7,197.7 C820.7,199.9 809.4,202.7 799.7,204.9 C790,207.1 778.4,209.2 770.7,211 C763.1,212.8 759.2,214.4 753.8,215.8 C748.4,217.2 740.7,218.8 738.1,219.4" stroke="#000" stroke-width="2.0" fill="none"/><path d="M1163.0,86.4 H1159.8 V186 H1163.0 M1139.9,163.5 V165.7 H1236.2 V163.5" stroke="#000" stroke-width="1.5" fill="none"/><path d="M1140.9,140.3 C1141,138.6 1141.2,132.9 1141.5,130 C1141.8,127.1 1142.2,124.9 1143,123 C1143.8,121.1 1144.8,119.8 1146,118.5 C1147.2,117.2 1148.6,116.2 1150.1,114.9 C1151.6,113.7 1153.3,112.4 1155,111 C1156.7,109.6 1158.5,108.3 1160.2,106.7 C1161.9,105.1 1163.3,102.8 1165,101.5 C1166.7,100.2 1168.6,98.9 1170.4,98.6 C1172.2,98.3 1174,99 1176,99.5 C1178,100 1179.5,100.7 1182.6,101.7 C1185.7,102.7 1191.9,104.9 1194.8,105.7 C1197.7,106.5 1198,106.1 1200,106.3 C1202,106.5 1204.6,106.9 1207,106.7 C1209.4,106.5 1212.3,105.7 1214.5,105 C1216.7,104.3 1218,103.6 1220,102.7 C1222,101.8 1224.9,100.7 1226.6,99.5 C1228.3,98.3 1229.2,96.8 1230,95.5 C1230.8,94.2 1231.2,92.2 1231.4,91.5" stroke="#000" stroke-width="2.0" fill="none"/><path d="M1231.4,91.5 C1231.3,93.8 1231.2,100.2 1231,105 C1230.8,109.8 1230.7,114.6 1230.2,120.4 C1229.7,126.2 1228.8,134.1 1227.8,139.7 C1226.8,145.3 1225.9,150.6 1224.1,154.2 C1222.3,157.8 1219.7,159.7 1216.9,161.4 C1214.1,163.1 1210,163.7 1207.2,164.3 C1204.4,164.9 1202.9,165 1200,165.2 C1197.1,165.4 1194.2,165.1 1190,165.4 C1185.8,165.7 1179.1,165.9 1174.5,166.8 C1169.9,167.7 1166,168.8 1162.3,170.8 C1158.6,172.8 1155.7,176.2 1152.1,178.9 C1148.5,181.6 1142.8,185.7 1140.9,187" stroke="#000" stroke-width="2.0" fill="none"/><path d="M1277.4,75 H1272.9 V235.8 H1277.4 M1241.5,202.20000000000002 V204.4 H1392.4 V202.20000000000002" stroke="#000" stroke-width="1.5" fill="none"/><polyline points="1242.3,237.2 1243.3,236 1244.3,235.3 1245.3,234.7 1246.3,232.8 1247.3,231.2 1248.3,230.3 1249.3,230.7 1250.3,228.7 1251.3,227.4 1252.3,227 1253.3,226.3 1254.3,225.4 1255.3,225.3 1256.3,223.1 1257.3,221.2 1258.3,221.5 1259.3,219.6 1260.3,218.4 1261.3,216.6 1262.3,215.2 1263.3,215.3 1264.3,212.5 1265.3,211.6 1266.3,209.9 1267.3,209.6 1268.3,207.6 1269.3,205.5 1270.3,204.7 1271.3,203.8 1272.3,200.9 1273.3,200.4 1274.3,200.6 1275.3,200.1 1276.3,199 1277.3,198.8 1278.3,198.7 1279.3,198.7 1280.3,197.1 1281.3,197.8 1282.3,197.4 1283.3,198.3 1284.3,196.1 1285.3,197.3 1286.3,197.3 1287.3,198.4 1288.3,197.2 1289.3,197.6 1290.3,198.1 1291.3,198.4 1292.3,198.5 1293.3,197.8 1294.3,199.6 1295.3,198.5 1296.3,199.2 1297.3,199.7 1298.3,199.2 1299.3,199.9 1300.3,199 1301.3,199.9 1302.3,199.9 1303.3,199.6 1304.3,200 1305.3,199.5 1306.3,200.1 1307.3,198.9 1308.3,198.2 1309.3,198.5 1310.3,198.1 1311.3,199.3 1312.3,198.6 1313.3,197.4 1314.3,196.5 1315.3,197.8 1316.3,196.4 1317.3,194.9 1318.3,195.6 1319.3,194.1 1320.3,195.2 1321.3,194.4 1322.3,193.1 1323.3,193 1324.3,191.7 1325.3,193.4 1326.3,192.1 1327.3,192 1328.3,192 1329.3,190.6 1330.3,190.1 1331.3,189.5 1332.3,189.3 1333.3,188 1334.3,187.6 1335.3,187.3 1336.3,186.5 1337.3,185.5 1338.3,184.5 1339.3,184.1 1340.3,184.1 1341.3,183.8 1342.3,183 1343.3,181.6 1344.3,181.4 1345.3,180.5 1346.3,180.1 1347.3,177.8 1348.3,177.9 1349.3,176.5 1350.3,175.2 1351.3,175.6 1352.3,174.2 1353.3,171.4 1354.3,171.3 1355.3,170.6 1356.3,169.8 1357.3,167.3 1358.3,166.6 1359.3,164.9 1360.3,162.8 1361.3,162 1362.3,159.7 1363.3,158.4 1364.3,156.3 1365.3,155.5 1366.3,153.9 1367.3,151.8 1368.3,149.9 1369.3,148.5 1370.3,145.9 1371.3,143.1 1372.3,140.1 1373.3,138.1 1374.3,134.6 1375.3,132.1 1376.3,130.2 1377.3,126.2 1378.3,123.9 1379.3,120.8 1380.3,116.6 1381.3,112.6 1382.3,109.2 1383.3,104.9 1384.3,102.4 1385.3,96.3 1386.3,89" fill="none" stroke="#000" stroke-width="1.3" stroke-linejoin="round" stroke-linecap="round"/><polyline points="1242.3,206.9 1243.3,207.8 1244.3,208.1 1245.3,208.5 1246.3,209.2 1247.3,209.8 1248.3,210 1249.3,210.4 1250.3,210.2 1251.3,211.2 1252.3,210.7 1253.3,211.4 1254.3,211.6 1255.3,210.1 1256.3,211.6 1257.3,210.6 1258.3,210.4 1259.3,210.8 1260.3,211 1261.3,211.4 1262.3,212.3 1263.3,210 1264.3,210.3 1265.3,210.4 1266.3,209.7 1267.3,208.9 1268.3,209.4 1269.3,209.2 1270.3,209.2 1271.3,208.5 1272.3,209.1 1273.3,208.3 1274.3,208.3 1275.3,207.3 1276.3,206.5 1277.3,208.2 1278.3,208 1279.3,208.1 1280.3,207.9 1281.3,207.6 1282.3,207.7 1283.3,208.3 1284.3,207.4 1285.3,207.7 1286.3,207.8 1287.3,208 1288.3,208.9 1289.3,207.5 1290.3,209.1 1291.3,207.9 1292.3,207.8 1293.3,207.5 1294.3,208.2 1295.3,208.5 1296.3,207.2 1297.3,207.5 1298.3,207.4 1299.3,207.2 1300.3,207 1301.3,207.6 1302.3,207.8 1303.3,207.5 1304.3,206.9 1305.3,206.9 1306.3,206.9 1307.3,206.2 1308.3,206.1 1309.3,205.1 1310.3,205.3 1311.3,204.8 1312.3,203.8 1313.3,203.6 1314.3,203.1 1315.3,203.2 1316.3,202.9 1317.3,202.7 1318.3,202.4 1319.3,201.9 1320.3,202.2 1321.3,201.1 1322.3,201.4 1323.3,200 1324.3,200.4 1325.3,201 1326.3,200.3 1327.3,200.3 1328.3,199.3 1329.3,198.3 1330.3,197.8 1331.3,197.7 1332.3,196.7 1333.3,197.1 1334.3,196.5 1335.3,195.2 1336.3,193.7 1337.3,193.5 1338.3,192.5 1339.3,191.7 1340.3,191.1 1341.3,190.6 1342.3,189.7 1343.3,189.1 1344.3,187.5 1345.3,187.3 1346.3,186.9 1347.3,185.8 1348.3,183.9 1349.3,183.7 1350.3,182.6 1351.3,180.9 1352.3,180.6 1353.3,179.8 1354.3,178.5 1355.3,178.4 1356.3,176.2 1357.3,175.2 1358.3,173.3 1359.3,171.3 1360.3,168.9 1361.3,167.3 1362.3,165.2 1363.3,164.3 1364.3,161.8 1365.3,159.1 1366.3,157.8 1367.3,154.6 1368.3,153.2 1369.3,151.8 1370.3,147.5 1371.3,146.5 1372.3,143.8 1373.3,140.7 1374.3,139 1375.3,135.4 1376.3,134 1377.3,131.1 1378.3,129.1 1379.3,125.4 1380.3,123.6 1381.3,121 1382.3,117.5 1383.3,116.1 1384.3,112 1385.3,111 1386.3,106.5 1387.3,98 1388.3,92.2" fill="none" stroke="#000" stroke-width="1.3" stroke-linejoin="round" stroke-linecap="round"/><path d="M1386.9,84 C1386.6,79 1387.5,76.8 1388.3,77 C1389.3,77.3 1389.8,80 1389.2,85" stroke="#000" stroke-width="1.3" fill="none"/><text x="149.6" y="50.5" font-size="32.3" font-weight="normal" fill="#000"><tspan font-style="italic">In Vitro</tspan> (flowcell)</text><text x="621.2" y="50.8" font-size="32.3" font-weight="normal" fill="#000"><tspan font-style="italic">In Vivo</tspan> (Swine)</text><text x="1067.8" y="50.8" font-size="32.3" font-weight="normal" fill="#000"><tspan font-style="italic">In Vivo</tspan> (Human)</text><text x="0.6" y="26.0" font-size="33" font-weight="bold" fill="#000">A</text><text x="489.5" y="26.0" font-size="33" font-weight="bold" fill="#000">B</text><text x="946.4" y="26.0" font-size="33" font-weight="bold" fill="#000">C</text><text x="128.3" y="82.5" font-size="17" font-weight="normal" fill="#000">2300 nA</text><text x="68.4" y="181.4" font-size="17" font-weight="normal" fill="#000">-0.4 V</text><text x="188.3" y="180.8" font-size="17" font-weight="normal" fill="#000">1.5 V</text><text x="122.2" y="201.5" font-size="17" font-weight="normal" fill="#000">-2100 nA</text><text x="361.4" y="82.9" font-size="17" font-weight="normal" fill="#000">100 nA</text><text x="303.0" y="198.5" font-size="17" font-weight="normal" fill="#000">-0.4 V</text><text x="361.4" y="241.5" font-size="17" font-weight="normal" fill="#000">-25 nA</text><text x="468.5" y="197.0" font-size="17" font-weight="normal" fill="#000">1.5 V</text><text x="652.5" y="84.6" font-size="17" font-weight="normal" fill="#000">4500 nA</text><text x="613.6" y="159.4" font-size="17" font-weight="normal" fill="#000">-0.4 V</text><text x="728.7" y="160.2" font-size="17" font-weight="normal" fill="#000">1.5 V</text><text x="649.4" y="204.0" font-size="17" font-weight="normal" fill="#000">-4100 nA</text><text x="775.8" y="83.6" font-size="17" font-weight="normal" fill="#000">350 nA</text><text x="722.1" y="196.4" font-size="17" font-weight="normal" fill="#000">-0.4 V</text><text x="873.6" y="196.4" font-size="17" font-weight="normal" fill="#000">1.5 V</text><text x="776.5" y="242.3" font-size="17" font-weight="normal" fill="#000">-100 nA</text><text x="1159.2" y="84.2" font-size="17" font-weight="normal" fill="#000">2000 nA</text><text x="1113.2" y="161.4" font-size="17" font-weight="normal" fill="#000">-0.4 V</text><text x="1229.2" y="161.8" font-size="17" font-weight="normal" fill="#000">1.5 V</text><text x="1151.9" y="202.0" font-size="17" font-weight="normal" fill="#000">-1700 nA</text><text x="1281.1" y="83.6" font-size="17" font-weight="normal" fill="#000">130 nA</text><text x="1225.0" y="196.3" font-size="17" font-weight="normal" fill="#000">-0.4 V</text><text x="1372.3" y="196.3" font-size="17" font-weight="normal" fill="#000">1.5 V</text><text x="1281.0" y="241.5" font-size="17" font-weight="normal" fill="#000">-30 nA</text><text x="110.1" y="251.4" font-size="20.5" font-weight="normal" fill="#000">1.5 V</text><text x="110.1" y="274.4" font-size="20.5" font-weight="normal" fill="#000">1.0 V</text><text x="531.1" y="254.0" font-size="20.5" font-weight="normal" fill="#000">1.5 V</text><text x="531.1" y="277.2" font-size="20.5" font-weight="normal" fill="#000">1.0 V</text><text x="999.0" y="253.3" font-size="20.5" font-weight="normal" fill="#000">1.5 V</text><text x="999.0" y="276.4" font-size="20.5" font-weight="normal" fill="#000">1.0 V</text><text x="154.4" y="334.7" font-size="19" font-weight="normal" fill="#000">20 nA</text><text x="518.8" y="335.9" font-size="19" font-weight="normal" fill="#000">60 nA</text><text x="979.9" y="336.7" font-size="19" font-weight="normal" fill="#000">20 nA</text><text x="23.0" y="438.5" font-size="17" font-weight="bold" fill="#000">-0.4</text><text x="29.4" y="586.9" font-size="17" font-weight="bold" fill="#000">1.5</text><text x="23.3" y="736.3" font-size="17" font-weight="bold" fill="#000">-0.4</text><text x="56.1" y="750.8" font-size="16" font-weight="bold" fill="#000">0</text><text x="515.7" y="751.7" font-size="16" font-weight="bold" fill="#000">0</text><text x="972.9" y="751.7" font-size="16" font-weight="bold" fill="#000">0</text><text x="467.3" y="751.3" font-size="16" font-weight="bold" fill="#000">30</text><text x="924.0" y="751.3" font-size="16" font-weight="bold" fill="#000">140</text><text x="1379.5" y="751.3" font-size="16" font-weight="bold" fill="#000">130</text><text x="386.3" y="773.0" font-size="20" font-weight="bold" fill="#000">Time (sec)</text><text x="853.4" y="773.0" font-size="20" font-weight="bold" fill="#000">Time (sec)</text><text x="1307.5" y="770.6" font-size="20" font-weight="bold" fill="#000">Time (sec)</text><text x="138.7" y="776.4" font-size="17" font-weight="bold" fill="#000">95</text><text x="281.6" y="776.4" font-size="17" font-weight="bold" fill="#000">-63</text><text x="594.7" y="776.4" font-size="17" font-weight="bold" fill="#000">458</text><text x="733.0" y="776.4" font-size="17" font-weight="bold" fill="#000">-305</text><text x="1053.8" y="776.4" font-size="17" font-weight="bold" fill="#000">131</text><text x="1200.9" y="776.4" font-size="17" font-weight="bold" fill="#000">-87</text><text x="64.1" y="578.0" font-size="17" font-weight="bold" fill="#000">1.5 V</text><text x="64.1" y="616.4" font-size="17" font-weight="bold" fill="#ff2a1a">1.0 V</text><text x="522.7" y="578.4" font-size="17" font-weight="bold" fill="#000">1.5 V</text><text x="522.7" y="615.4" font-size="17" font-weight="bold" fill="#ff2a1a">1.0 V</text><text x="979.8" y="577.0" font-size="17" font-weight="bold" fill="#000">1.5 V</text><text x="978.3" y="616.6" font-size="17" font-weight="bold" fill="#ff2a1a">1.0 V</text><text transform="translate(24.3,581.5) rotate(-90)" text-anchor="middle" font-size="20.4" font-weight="bold">Applied potential (V)</text></svg></body></html>
